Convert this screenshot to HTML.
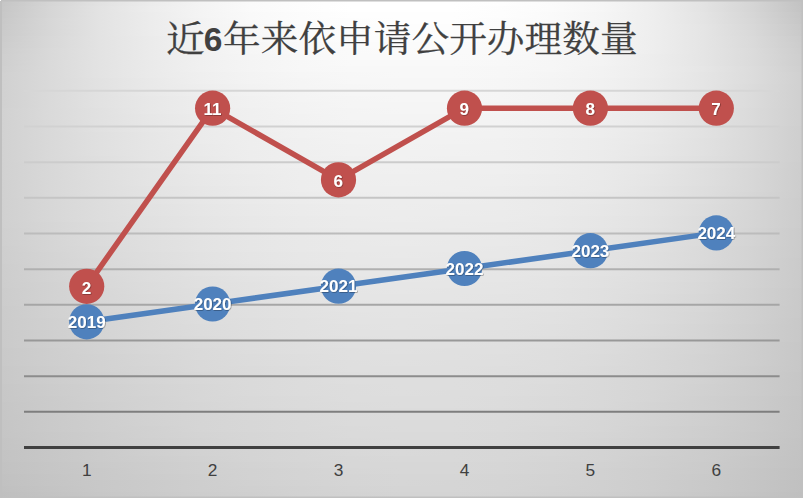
<!DOCTYPE html>
<html lang="zh-CN"><head><meta charset="utf-8"><title>近6年来依申请公开办理数量</title>
<style>
html,body{margin:0;padding:0;background:#fff;}
body{width:803px;height:498px;overflow:hidden;}
svg{display:block;}
.t{font-family:"Liberation Serif","Noto Serif CJK SC",serif;font-size:36.3px;fill:#404040;stroke:#404040;stroke-width:0.25px;}
.tb{font-family:"Liberation Sans",sans-serif;font-weight:bold;font-size:33.5px;fill:#404040;}
.ax{font-family:"Liberation Sans",sans-serif;font-size:17.3px;fill:#404040;text-anchor:middle;}
.dl{font-family:"Liberation Sans",sans-serif;font-weight:bold;font-size:17px;fill:#fff;text-anchor:middle;}
</style></head><body>
<svg width="803" height="498" viewBox="0 0 803 498">
<defs>
<linearGradient id="g0" x1="0" x2="1" y1="0" y2="0"><stop offset="0.0000" stop-color="#c5c5c5"/><stop offset="0.0625" stop-color="#d5d5d5"/><stop offset="0.1250" stop-color="#e2e2e2"/><stop offset="0.1875" stop-color="#ececec"/><stop offset="0.2500" stop-color="#f4f4f4"/><stop offset="0.3125" stop-color="#fafafa"/><stop offset="0.3750" stop-color="#fdfdfd"/><stop offset="0.4375" stop-color="#ffffff"/><stop offset="0.5000" stop-color="#ffffff"/><stop offset="0.5625" stop-color="#ffffff"/><stop offset="0.6250" stop-color="#fefefe"/><stop offset="0.6875" stop-color="#fbfbfb"/><stop offset="0.7500" stop-color="#f6f6f6"/><stop offset="0.8125" stop-color="#eeeeee"/><stop offset="0.8750" stop-color="#e3e3e3"/><stop offset="0.9375" stop-color="#d5d5d5"/><stop offset="1.0000" stop-color="#c2c2c2"/></linearGradient>
<linearGradient id="g1" x1="0" x2="1" y1="0" y2="0"><stop offset="0.0000" stop-color="#c6c6c6"/><stop offset="0.0625" stop-color="#d6d6d6"/><stop offset="0.1250" stop-color="#e3e3e3"/><stop offset="0.1875" stop-color="#ededed"/><stop offset="0.2500" stop-color="#f4f4f4"/><stop offset="0.3125" stop-color="#fafafa"/><stop offset="0.3750" stop-color="#fdfdfd"/><stop offset="0.4375" stop-color="#ffffff"/><stop offset="0.5000" stop-color="#ffffff"/><stop offset="0.5625" stop-color="#ffffff"/><stop offset="0.6250" stop-color="#fdfdfd"/><stop offset="0.6875" stop-color="#fbfbfb"/><stop offset="0.7500" stop-color="#f6f6f6"/><stop offset="0.8125" stop-color="#eeeeee"/><stop offset="0.8750" stop-color="#e3e3e3"/><stop offset="0.9375" stop-color="#d5d5d5"/><stop offset="1.0000" stop-color="#c3c3c3"/></linearGradient>
<linearGradient id="g2" x1="0" x2="1" y1="0" y2="0"><stop offset="0.0000" stop-color="#c7c7c7"/><stop offset="0.0625" stop-color="#d6d6d6"/><stop offset="0.1250" stop-color="#e3e3e3"/><stop offset="0.1875" stop-color="#ececec"/><stop offset="0.2500" stop-color="#f4f4f4"/><stop offset="0.3125" stop-color="#f9f9f9"/><stop offset="0.3750" stop-color="#fcfcfc"/><stop offset="0.4375" stop-color="#fefefe"/><stop offset="0.5000" stop-color="#fefefe"/><stop offset="0.5625" stop-color="#fefefe"/><stop offset="0.6250" stop-color="#fdfdfd"/><stop offset="0.6875" stop-color="#fafafa"/><stop offset="0.7500" stop-color="#f5f5f5"/><stop offset="0.8125" stop-color="#eeeeee"/><stop offset="0.8750" stop-color="#e4e4e4"/><stop offset="0.9375" stop-color="#d6d6d6"/><stop offset="1.0000" stop-color="#c5c5c5"/></linearGradient>
<linearGradient id="g3" x1="0" x2="1" y1="0" y2="0"><stop offset="0.0000" stop-color="#c8c8c8"/><stop offset="0.0625" stop-color="#d7d7d7"/><stop offset="0.1250" stop-color="#e3e3e3"/><stop offset="0.1875" stop-color="#ececec"/><stop offset="0.2500" stop-color="#f3f3f3"/><stop offset="0.3125" stop-color="#f9f9f9"/><stop offset="0.3750" stop-color="#fcfcfc"/><stop offset="0.4375" stop-color="#fdfdfd"/><stop offset="0.5000" stop-color="#fefefe"/><stop offset="0.5625" stop-color="#fefefe"/><stop offset="0.6250" stop-color="#fcfcfc"/><stop offset="0.6875" stop-color="#fafafa"/><stop offset="0.7500" stop-color="#f5f5f5"/><stop offset="0.8125" stop-color="#eeeeee"/><stop offset="0.8750" stop-color="#e4e4e4"/><stop offset="0.9375" stop-color="#d7d7d7"/><stop offset="1.0000" stop-color="#c6c6c6"/></linearGradient>
<linearGradient id="g4" x1="0" x2="1" y1="0" y2="0"><stop offset="0.0000" stop-color="#c9c9c9"/><stop offset="0.0625" stop-color="#d7d7d7"/><stop offset="0.1250" stop-color="#e3e3e3"/><stop offset="0.1875" stop-color="#ececec"/><stop offset="0.2500" stop-color="#f3f3f3"/><stop offset="0.3125" stop-color="#f8f8f8"/><stop offset="0.3750" stop-color="#fbfbfb"/><stop offset="0.4375" stop-color="#fdfdfd"/><stop offset="0.5000" stop-color="#fdfdfd"/><stop offset="0.5625" stop-color="#fdfdfd"/><stop offset="0.6250" stop-color="#fcfcfc"/><stop offset="0.6875" stop-color="#f9f9f9"/><stop offset="0.7500" stop-color="#f5f5f5"/><stop offset="0.8125" stop-color="#eeeeee"/><stop offset="0.8750" stop-color="#e5e5e5"/><stop offset="0.9375" stop-color="#d8d8d8"/><stop offset="1.0000" stop-color="#c8c8c8"/></linearGradient>
<linearGradient id="g5" x1="0" x2="1" y1="0" y2="0"><stop offset="0.0000" stop-color="#cacaca"/><stop offset="0.0625" stop-color="#d7d7d7"/><stop offset="0.1250" stop-color="#e3e3e3"/><stop offset="0.1875" stop-color="#ececec"/><stop offset="0.2500" stop-color="#f3f3f3"/><stop offset="0.3125" stop-color="#f8f8f8"/><stop offset="0.3750" stop-color="#fbfbfb"/><stop offset="0.4375" stop-color="#fcfcfc"/><stop offset="0.5000" stop-color="#fdfdfd"/><stop offset="0.5625" stop-color="#fcfcfc"/><stop offset="0.6250" stop-color="#fbfbfb"/><stop offset="0.6875" stop-color="#f9f9f9"/><stop offset="0.7500" stop-color="#f5f5f5"/><stop offset="0.8125" stop-color="#eeeeee"/><stop offset="0.8750" stop-color="#e5e5e5"/><stop offset="0.9375" stop-color="#d9d9d9"/><stop offset="1.0000" stop-color="#c9c9c9"/></linearGradient>
<linearGradient id="g6" x1="0" x2="1" y1="0" y2="0"><stop offset="0.0000" stop-color="#cbcbcb"/><stop offset="0.0625" stop-color="#d8d8d8"/><stop offset="0.1250" stop-color="#e3e3e3"/><stop offset="0.1875" stop-color="#ebebeb"/><stop offset="0.2500" stop-color="#f2f2f2"/><stop offset="0.3125" stop-color="#f7f7f7"/><stop offset="0.3750" stop-color="#fafafa"/><stop offset="0.4375" stop-color="#fcfcfc"/><stop offset="0.5000" stop-color="#fcfcfc"/><stop offset="0.5625" stop-color="#fcfcfc"/><stop offset="0.6250" stop-color="#fbfbfb"/><stop offset="0.6875" stop-color="#f9f9f9"/><stop offset="0.7500" stop-color="#f4f4f4"/><stop offset="0.8125" stop-color="#eeeeee"/><stop offset="0.8750" stop-color="#e5e5e5"/><stop offset="0.9375" stop-color="#dadada"/><stop offset="1.0000" stop-color="#cbcbcb"/></linearGradient>
<linearGradient id="g7" x1="0" x2="1" y1="0" y2="0"><stop offset="0.0000" stop-color="#cccccc"/><stop offset="0.0625" stop-color="#d8d8d8"/><stop offset="0.1250" stop-color="#e3e3e3"/><stop offset="0.1875" stop-color="#ebebeb"/><stop offset="0.2500" stop-color="#f2f2f2"/><stop offset="0.3125" stop-color="#f6f6f6"/><stop offset="0.3750" stop-color="#f9f9f9"/><stop offset="0.4375" stop-color="#fbfbfb"/><stop offset="0.5000" stop-color="#fbfbfb"/><stop offset="0.5625" stop-color="#fbfbfb"/><stop offset="0.6250" stop-color="#fafafa"/><stop offset="0.6875" stop-color="#f8f8f8"/><stop offset="0.7500" stop-color="#f4f4f4"/><stop offset="0.8125" stop-color="#eeeeee"/><stop offset="0.8750" stop-color="#e5e5e5"/><stop offset="0.9375" stop-color="#dadada"/><stop offset="1.0000" stop-color="#cccccc"/></linearGradient>
<linearGradient id="g8" x1="0" x2="1" y1="0" y2="0"><stop offset="0.0000" stop-color="#cdcdcd"/><stop offset="0.0625" stop-color="#d9d9d9"/><stop offset="0.1250" stop-color="#e3e3e3"/><stop offset="0.1875" stop-color="#ebebeb"/><stop offset="0.2500" stop-color="#f1f1f1"/><stop offset="0.3125" stop-color="#f6f6f6"/><stop offset="0.3750" stop-color="#f9f9f9"/><stop offset="0.4375" stop-color="#fafafa"/><stop offset="0.5000" stop-color="#fbfbfb"/><stop offset="0.5625" stop-color="#fafafa"/><stop offset="0.6250" stop-color="#fafafa"/><stop offset="0.6875" stop-color="#f7f7f7"/><stop offset="0.7500" stop-color="#f4f4f4"/><stop offset="0.8125" stop-color="#eeeeee"/><stop offset="0.8750" stop-color="#e5e5e5"/><stop offset="0.9375" stop-color="#dbdbdb"/><stop offset="1.0000" stop-color="#cdcdcd"/></linearGradient>
<linearGradient id="g9" x1="0" x2="1" y1="0" y2="0"><stop offset="0.0000" stop-color="#cecece"/><stop offset="0.0625" stop-color="#d9d9d9"/><stop offset="0.1250" stop-color="#e3e3e3"/><stop offset="0.1875" stop-color="#ebebeb"/><stop offset="0.2500" stop-color="#f1f1f1"/><stop offset="0.3125" stop-color="#f5f5f5"/><stop offset="0.3750" stop-color="#f8f8f8"/><stop offset="0.4375" stop-color="#fafafa"/><stop offset="0.5000" stop-color="#fafafa"/><stop offset="0.5625" stop-color="#fafafa"/><stop offset="0.6250" stop-color="#f9f9f9"/><stop offset="0.6875" stop-color="#f7f7f7"/><stop offset="0.7500" stop-color="#f3f3f3"/><stop offset="0.8125" stop-color="#ededed"/><stop offset="0.8750" stop-color="#e5e5e5"/><stop offset="0.9375" stop-color="#dbdbdb"/><stop offset="1.0000" stop-color="#cecece"/></linearGradient>
<linearGradient id="g10" x1="0" x2="1" y1="0" y2="0"><stop offset="0.0000" stop-color="#cecece"/><stop offset="0.0625" stop-color="#dadada"/><stop offset="0.1250" stop-color="#e3e3e3"/><stop offset="0.1875" stop-color="#eaeaea"/><stop offset="0.2500" stop-color="#f0f0f0"/><stop offset="0.3125" stop-color="#f4f4f4"/><stop offset="0.3750" stop-color="#f7f7f7"/><stop offset="0.4375" stop-color="#f9f9f9"/><stop offset="0.5000" stop-color="#f9f9f9"/><stop offset="0.5625" stop-color="#f9f9f9"/><stop offset="0.6250" stop-color="#f8f8f8"/><stop offset="0.6875" stop-color="#f6f6f6"/><stop offset="0.7500" stop-color="#f3f3f3"/><stop offset="0.8125" stop-color="#ededed"/><stop offset="0.8750" stop-color="#e5e5e5"/><stop offset="0.9375" stop-color="#dbdbdb"/><stop offset="1.0000" stop-color="#cecece"/></linearGradient>
<linearGradient id="g11" x1="0" x2="1" y1="0" y2="0"><stop offset="0.0000" stop-color="#cfcfcf"/><stop offset="0.0625" stop-color="#dadada"/><stop offset="0.1250" stop-color="#e3e3e3"/><stop offset="0.1875" stop-color="#eaeaea"/><stop offset="0.2500" stop-color="#f0f0f0"/><stop offset="0.3125" stop-color="#f4f4f4"/><stop offset="0.3750" stop-color="#f7f7f7"/><stop offset="0.4375" stop-color="#f8f8f8"/><stop offset="0.5000" stop-color="#f8f8f8"/><stop offset="0.5625" stop-color="#f8f8f8"/><stop offset="0.6250" stop-color="#f7f7f7"/><stop offset="0.6875" stop-color="#f6f6f6"/><stop offset="0.7500" stop-color="#f2f2f2"/><stop offset="0.8125" stop-color="#ededed"/><stop offset="0.8750" stop-color="#e6e6e6"/><stop offset="0.9375" stop-color="#dcdcdc"/><stop offset="1.0000" stop-color="#cfcfcf"/></linearGradient>
<linearGradient id="g12" x1="0" x2="1" y1="0" y2="0"><stop offset="0.0000" stop-color="#d0d0d0"/><stop offset="0.0625" stop-color="#dadada"/><stop offset="0.1250" stop-color="#e3e3e3"/><stop offset="0.1875" stop-color="#eaeaea"/><stop offset="0.2500" stop-color="#efefef"/><stop offset="0.3125" stop-color="#f3f3f3"/><stop offset="0.3750" stop-color="#f6f6f6"/><stop offset="0.4375" stop-color="#f7f7f7"/><stop offset="0.5000" stop-color="#f8f8f8"/><stop offset="0.5625" stop-color="#f8f8f8"/><stop offset="0.6250" stop-color="#f7f7f7"/><stop offset="0.6875" stop-color="#f5f5f5"/><stop offset="0.7500" stop-color="#f2f2f2"/><stop offset="0.8125" stop-color="#ededed"/><stop offset="0.8750" stop-color="#e5e5e5"/><stop offset="0.9375" stop-color="#dcdcdc"/><stop offset="1.0000" stop-color="#d0d0d0"/></linearGradient>
<linearGradient id="g13" x1="0" x2="1" y1="0" y2="0"><stop offset="0.0000" stop-color="#d0d0d0"/><stop offset="0.0625" stop-color="#dadada"/><stop offset="0.1250" stop-color="#e2e2e2"/><stop offset="0.1875" stop-color="#e9e9e9"/><stop offset="0.2500" stop-color="#efefef"/><stop offset="0.3125" stop-color="#f3f3f3"/><stop offset="0.3750" stop-color="#f5f5f5"/><stop offset="0.4375" stop-color="#f7f7f7"/><stop offset="0.5000" stop-color="#f7f7f7"/><stop offset="0.5625" stop-color="#f7f7f7"/><stop offset="0.6250" stop-color="#f6f6f6"/><stop offset="0.6875" stop-color="#f4f4f4"/><stop offset="0.7500" stop-color="#f1f1f1"/><stop offset="0.8125" stop-color="#ececec"/><stop offset="0.8750" stop-color="#e5e5e5"/><stop offset="0.9375" stop-color="#dcdcdc"/><stop offset="1.0000" stop-color="#d0d0d0"/></linearGradient>
<linearGradient id="g14" x1="0" x2="1" y1="0" y2="0"><stop offset="0.0000" stop-color="#d0d0d0"/><stop offset="0.0625" stop-color="#dadada"/><stop offset="0.1250" stop-color="#e2e2e2"/><stop offset="0.1875" stop-color="#e9e9e9"/><stop offset="0.2500" stop-color="#eeeeee"/><stop offset="0.3125" stop-color="#f2f2f2"/><stop offset="0.3750" stop-color="#f5f5f5"/><stop offset="0.4375" stop-color="#f6f6f6"/><stop offset="0.5000" stop-color="#f7f7f7"/><stop offset="0.5625" stop-color="#f7f7f7"/><stop offset="0.6250" stop-color="#f6f6f6"/><stop offset="0.6875" stop-color="#f4f4f4"/><stop offset="0.7500" stop-color="#f1f1f1"/><stop offset="0.8125" stop-color="#ececec"/><stop offset="0.8750" stop-color="#e5e5e5"/><stop offset="0.9375" stop-color="#dbdbdb"/><stop offset="1.0000" stop-color="#d0d0d0"/></linearGradient>
<linearGradient id="g15" x1="0" x2="1" y1="0" y2="0"><stop offset="0.0000" stop-color="#d0d0d0"/><stop offset="0.0625" stop-color="#dadada"/><stop offset="0.1250" stop-color="#e2e2e2"/><stop offset="0.1875" stop-color="#e9e9e9"/><stop offset="0.2500" stop-color="#eeeeee"/><stop offset="0.3125" stop-color="#f2f2f2"/><stop offset="0.3750" stop-color="#f4f4f4"/><stop offset="0.4375" stop-color="#f6f6f6"/><stop offset="0.5000" stop-color="#f6f6f6"/><stop offset="0.5625" stop-color="#f6f6f6"/><stop offset="0.6250" stop-color="#f5f5f5"/><stop offset="0.6875" stop-color="#f3f3f3"/><stop offset="0.7500" stop-color="#f0f0f0"/><stop offset="0.8125" stop-color="#ebebeb"/><stop offset="0.8750" stop-color="#e4e4e4"/><stop offset="0.9375" stop-color="#dbdbdb"/><stop offset="1.0000" stop-color="#cfcfcf"/></linearGradient>
<linearGradient id="g16" x1="0" x2="1" y1="0" y2="0"><stop offset="0.0000" stop-color="#d0d0d0"/><stop offset="0.0625" stop-color="#dadada"/><stop offset="0.1250" stop-color="#e2e2e2"/><stop offset="0.1875" stop-color="#e8e8e8"/><stop offset="0.2500" stop-color="#ededed"/><stop offset="0.3125" stop-color="#f1f1f1"/><stop offset="0.3750" stop-color="#f4f4f4"/><stop offset="0.4375" stop-color="#f5f5f5"/><stop offset="0.5000" stop-color="#f6f6f6"/><stop offset="0.5625" stop-color="#f6f6f6"/><stop offset="0.6250" stop-color="#f5f5f5"/><stop offset="0.6875" stop-color="#f3f3f3"/><stop offset="0.7500" stop-color="#f0f0f0"/><stop offset="0.8125" stop-color="#ebebeb"/><stop offset="0.8750" stop-color="#e4e4e4"/><stop offset="0.9375" stop-color="#dbdbdb"/><stop offset="1.0000" stop-color="#cfcfcf"/></linearGradient>
<linearGradient id="g17" x1="0" x2="1" y1="0" y2="0"><stop offset="0.0000" stop-color="#d0d0d0"/><stop offset="0.0625" stop-color="#dadada"/><stop offset="0.1250" stop-color="#e2e2e2"/><stop offset="0.1875" stop-color="#e8e8e8"/><stop offset="0.2500" stop-color="#ededed"/><stop offset="0.3125" stop-color="#f1f1f1"/><stop offset="0.3750" stop-color="#f3f3f3"/><stop offset="0.4375" stop-color="#f5f5f5"/><stop offset="0.5000" stop-color="#f5f5f5"/><stop offset="0.5625" stop-color="#f5f5f5"/><stop offset="0.6250" stop-color="#f4f4f4"/><stop offset="0.6875" stop-color="#f2f2f2"/><stop offset="0.7500" stop-color="#efefef"/><stop offset="0.8125" stop-color="#eaeaea"/><stop offset="0.8750" stop-color="#e4e4e4"/><stop offset="0.9375" stop-color="#dbdbdb"/><stop offset="1.0000" stop-color="#cfcfcf"/></linearGradient>
<linearGradient id="g18" x1="0" x2="1" y1="0" y2="0"><stop offset="0.0000" stop-color="#d1d1d1"/><stop offset="0.0625" stop-color="#dadada"/><stop offset="0.1250" stop-color="#e1e1e1"/><stop offset="0.1875" stop-color="#e8e8e8"/><stop offset="0.2500" stop-color="#ededed"/><stop offset="0.3125" stop-color="#f0f0f0"/><stop offset="0.3750" stop-color="#f3f3f3"/><stop offset="0.4375" stop-color="#f4f4f4"/><stop offset="0.5000" stop-color="#f5f5f5"/><stop offset="0.5625" stop-color="#f5f5f5"/><stop offset="0.6250" stop-color="#f4f4f4"/><stop offset="0.6875" stop-color="#f2f2f2"/><stop offset="0.7500" stop-color="#efefef"/><stop offset="0.8125" stop-color="#eaeaea"/><stop offset="0.8750" stop-color="#e3e3e3"/><stop offset="0.9375" stop-color="#dadada"/><stop offset="1.0000" stop-color="#cfcfcf"/></linearGradient>
<linearGradient id="g19" x1="0" x2="1" y1="0" y2="0"><stop offset="0.0000" stop-color="#d1d1d1"/><stop offset="0.0625" stop-color="#dadada"/><stop offset="0.1250" stop-color="#e1e1e1"/><stop offset="0.1875" stop-color="#e7e7e7"/><stop offset="0.2500" stop-color="#ececec"/><stop offset="0.3125" stop-color="#f0f0f0"/><stop offset="0.3750" stop-color="#f2f2f2"/><stop offset="0.4375" stop-color="#f4f4f4"/><stop offset="0.5000" stop-color="#f4f4f4"/><stop offset="0.5625" stop-color="#f4f4f4"/><stop offset="0.6250" stop-color="#f3f3f3"/><stop offset="0.6875" stop-color="#f1f1f1"/><stop offset="0.7500" stop-color="#eeeeee"/><stop offset="0.8125" stop-color="#eaeaea"/><stop offset="0.8750" stop-color="#e3e3e3"/><stop offset="0.9375" stop-color="#dadada"/><stop offset="1.0000" stop-color="#cfcfcf"/></linearGradient>
<linearGradient id="g20" x1="0" x2="1" y1="0" y2="0"><stop offset="0.0000" stop-color="#d1d1d1"/><stop offset="0.0625" stop-color="#d9d9d9"/><stop offset="0.1250" stop-color="#e1e1e1"/><stop offset="0.1875" stop-color="#e7e7e7"/><stop offset="0.2500" stop-color="#ececec"/><stop offset="0.3125" stop-color="#efefef"/><stop offset="0.3750" stop-color="#f2f2f2"/><stop offset="0.4375" stop-color="#f3f3f3"/><stop offset="0.5000" stop-color="#f4f4f4"/><stop offset="0.5625" stop-color="#f3f3f3"/><stop offset="0.6250" stop-color="#f3f3f3"/><stop offset="0.6875" stop-color="#f1f1f1"/><stop offset="0.7500" stop-color="#eeeeee"/><stop offset="0.8125" stop-color="#e9e9e9"/><stop offset="0.8750" stop-color="#e2e2e2"/><stop offset="0.9375" stop-color="#dadada"/><stop offset="1.0000" stop-color="#cfcfcf"/></linearGradient>
<linearGradient id="g21" x1="0" x2="1" y1="0" y2="0"><stop offset="0.0000" stop-color="#d1d1d1"/><stop offset="0.0625" stop-color="#d9d9d9"/><stop offset="0.1250" stop-color="#e1e1e1"/><stop offset="0.1875" stop-color="#e7e7e7"/><stop offset="0.2500" stop-color="#ebebeb"/><stop offset="0.3125" stop-color="#efefef"/><stop offset="0.3750" stop-color="#f1f1f1"/><stop offset="0.4375" stop-color="#f3f3f3"/><stop offset="0.5000" stop-color="#f3f3f3"/><stop offset="0.5625" stop-color="#f3f3f3"/><stop offset="0.6250" stop-color="#f2f2f2"/><stop offset="0.6875" stop-color="#f0f0f0"/><stop offset="0.7500" stop-color="#ededed"/><stop offset="0.8125" stop-color="#e9e9e9"/><stop offset="0.8750" stop-color="#e2e2e2"/><stop offset="0.9375" stop-color="#d9d9d9"/><stop offset="1.0000" stop-color="#cecece"/></linearGradient>
<linearGradient id="g22" x1="0" x2="1" y1="0" y2="0"><stop offset="0.0000" stop-color="#d1d1d1"/><stop offset="0.0625" stop-color="#d9d9d9"/><stop offset="0.1250" stop-color="#e0e0e0"/><stop offset="0.1875" stop-color="#e6e6e6"/><stop offset="0.2500" stop-color="#ebebeb"/><stop offset="0.3125" stop-color="#eeeeee"/><stop offset="0.3750" stop-color="#f1f1f1"/><stop offset="0.4375" stop-color="#f2f2f2"/><stop offset="0.5000" stop-color="#f3f3f3"/><stop offset="0.5625" stop-color="#f2f2f2"/><stop offset="0.6250" stop-color="#f2f2f2"/><stop offset="0.6875" stop-color="#f0f0f0"/><stop offset="0.7500" stop-color="#ededed"/><stop offset="0.8125" stop-color="#e8e8e8"/><stop offset="0.8750" stop-color="#e2e2e2"/><stop offset="0.9375" stop-color="#d9d9d9"/><stop offset="1.0000" stop-color="#cecece"/></linearGradient>
<linearGradient id="g23" x1="0" x2="1" y1="0" y2="0"><stop offset="0.0000" stop-color="#d1d1d1"/><stop offset="0.0625" stop-color="#d9d9d9"/><stop offset="0.1250" stop-color="#e0e0e0"/><stop offset="0.1875" stop-color="#e6e6e6"/><stop offset="0.2500" stop-color="#ebebeb"/><stop offset="0.3125" stop-color="#eeeeee"/><stop offset="0.3750" stop-color="#f0f0f0"/><stop offset="0.4375" stop-color="#f2f2f2"/><stop offset="0.5000" stop-color="#f2f2f2"/><stop offset="0.5625" stop-color="#f2f2f2"/><stop offset="0.6250" stop-color="#f1f1f1"/><stop offset="0.6875" stop-color="#efefef"/><stop offset="0.7500" stop-color="#ececec"/><stop offset="0.8125" stop-color="#e8e8e8"/><stop offset="0.8750" stop-color="#e1e1e1"/><stop offset="0.9375" stop-color="#d9d9d9"/><stop offset="1.0000" stop-color="#cecece"/></linearGradient>
<linearGradient id="g24" x1="0" x2="1" y1="0" y2="0"><stop offset="0.0000" stop-color="#d1d1d1"/><stop offset="0.0625" stop-color="#d9d9d9"/><stop offset="0.1250" stop-color="#e0e0e0"/><stop offset="0.1875" stop-color="#e6e6e6"/><stop offset="0.2500" stop-color="#eaeaea"/><stop offset="0.3125" stop-color="#eeeeee"/><stop offset="0.3750" stop-color="#f0f0f0"/><stop offset="0.4375" stop-color="#f1f1f1"/><stop offset="0.5000" stop-color="#f2f2f2"/><stop offset="0.5625" stop-color="#f1f1f1"/><stop offset="0.6250" stop-color="#f1f1f1"/><stop offset="0.6875" stop-color="#efefef"/><stop offset="0.7500" stop-color="#ececec"/><stop offset="0.8125" stop-color="#e7e7e7"/><stop offset="0.8750" stop-color="#e1e1e1"/><stop offset="0.9375" stop-color="#d9d9d9"/><stop offset="1.0000" stop-color="#cecece"/></linearGradient>
<linearGradient id="g25" x1="0" x2="1" y1="0" y2="0"><stop offset="0.0000" stop-color="#d1d1d1"/><stop offset="0.0625" stop-color="#d9d9d9"/><stop offset="0.1250" stop-color="#e0e0e0"/><stop offset="0.1875" stop-color="#e5e5e5"/><stop offset="0.2500" stop-color="#eaeaea"/><stop offset="0.3125" stop-color="#ededed"/><stop offset="0.3750" stop-color="#efefef"/><stop offset="0.4375" stop-color="#f1f1f1"/><stop offset="0.5000" stop-color="#f1f1f1"/><stop offset="0.5625" stop-color="#f1f1f1"/><stop offset="0.6250" stop-color="#f0f0f0"/><stop offset="0.6875" stop-color="#eeeeee"/><stop offset="0.7500" stop-color="#ebebeb"/><stop offset="0.8125" stop-color="#e7e7e7"/><stop offset="0.8750" stop-color="#e1e1e1"/><stop offset="0.9375" stop-color="#d8d8d8"/><stop offset="1.0000" stop-color="#cecece"/></linearGradient>
<linearGradient id="g26" x1="0" x2="1" y1="0" y2="0"><stop offset="0.0000" stop-color="#d1d1d1"/><stop offset="0.0625" stop-color="#d9d9d9"/><stop offset="0.1250" stop-color="#dfdfdf"/><stop offset="0.1875" stop-color="#e5e5e5"/><stop offset="0.2500" stop-color="#e9e9e9"/><stop offset="0.3125" stop-color="#ededed"/><stop offset="0.3750" stop-color="#efefef"/><stop offset="0.4375" stop-color="#f0f0f0"/><stop offset="0.5000" stop-color="#f1f1f1"/><stop offset="0.5625" stop-color="#f0f0f0"/><stop offset="0.6250" stop-color="#f0f0f0"/><stop offset="0.6875" stop-color="#eeeeee"/><stop offset="0.7500" stop-color="#ebebeb"/><stop offset="0.8125" stop-color="#e6e6e6"/><stop offset="0.8750" stop-color="#e0e0e0"/><stop offset="0.9375" stop-color="#d8d8d8"/><stop offset="1.0000" stop-color="#cecece"/></linearGradient>
<linearGradient id="g27" x1="0" x2="1" y1="0" y2="0"><stop offset="0.0000" stop-color="#d1d1d1"/><stop offset="0.0625" stop-color="#d8d8d8"/><stop offset="0.1250" stop-color="#dfdfdf"/><stop offset="0.1875" stop-color="#e5e5e5"/><stop offset="0.2500" stop-color="#e9e9e9"/><stop offset="0.3125" stop-color="#ececec"/><stop offset="0.3750" stop-color="#efefef"/><stop offset="0.4375" stop-color="#f0f0f0"/><stop offset="0.5000" stop-color="#f0f0f0"/><stop offset="0.5625" stop-color="#f0f0f0"/><stop offset="0.6250" stop-color="#efefef"/><stop offset="0.6875" stop-color="#ededed"/><stop offset="0.7500" stop-color="#eaeaea"/><stop offset="0.8125" stop-color="#e6e6e6"/><stop offset="0.8750" stop-color="#e0e0e0"/><stop offset="0.9375" stop-color="#d8d8d8"/><stop offset="1.0000" stop-color="#cdcdcd"/></linearGradient>
<linearGradient id="g28" x1="0" x2="1" y1="0" y2="0"><stop offset="0.0000" stop-color="#d1d1d1"/><stop offset="0.0625" stop-color="#d8d8d8"/><stop offset="0.1250" stop-color="#dfdfdf"/><stop offset="0.1875" stop-color="#e4e4e4"/><stop offset="0.2500" stop-color="#e9e9e9"/><stop offset="0.3125" stop-color="#ececec"/><stop offset="0.3750" stop-color="#eeeeee"/><stop offset="0.4375" stop-color="#efefef"/><stop offset="0.5000" stop-color="#f0f0f0"/><stop offset="0.5625" stop-color="#efefef"/><stop offset="0.6250" stop-color="#efefef"/><stop offset="0.6875" stop-color="#ededed"/><stop offset="0.7500" stop-color="#eaeaea"/><stop offset="0.8125" stop-color="#e6e6e6"/><stop offset="0.8750" stop-color="#dfdfdf"/><stop offset="0.9375" stop-color="#d7d7d7"/><stop offset="1.0000" stop-color="#cdcdcd"/></linearGradient>
<linearGradient id="g29" x1="0" x2="1" y1="0" y2="0"><stop offset="0.0000" stop-color="#d1d1d1"/><stop offset="0.0625" stop-color="#d8d8d8"/><stop offset="0.1250" stop-color="#dfdfdf"/><stop offset="0.1875" stop-color="#e4e4e4"/><stop offset="0.2500" stop-color="#e8e8e8"/><stop offset="0.3125" stop-color="#ebebeb"/><stop offset="0.3750" stop-color="#eeeeee"/><stop offset="0.4375" stop-color="#efefef"/><stop offset="0.5000" stop-color="#efefef"/><stop offset="0.5625" stop-color="#efefef"/><stop offset="0.6250" stop-color="#eeeeee"/><stop offset="0.6875" stop-color="#ececec"/><stop offset="0.7500" stop-color="#eaeaea"/><stop offset="0.8125" stop-color="#e5e5e5"/><stop offset="0.8750" stop-color="#dfdfdf"/><stop offset="0.9375" stop-color="#d7d7d7"/><stop offset="1.0000" stop-color="#cdcdcd"/></linearGradient>
<linearGradient id="g30" x1="0" x2="1" y1="0" y2="0"><stop offset="0.0000" stop-color="#d0d0d0"/><stop offset="0.0625" stop-color="#d8d8d8"/><stop offset="0.1250" stop-color="#dedede"/><stop offset="0.1875" stop-color="#e4e4e4"/><stop offset="0.2500" stop-color="#e8e8e8"/><stop offset="0.3125" stop-color="#ebebeb"/><stop offset="0.3750" stop-color="#ededed"/><stop offset="0.4375" stop-color="#eeeeee"/><stop offset="0.5000" stop-color="#efefef"/><stop offset="0.5625" stop-color="#eeeeee"/><stop offset="0.6250" stop-color="#eeeeee"/><stop offset="0.6875" stop-color="#ececec"/><stop offset="0.7500" stop-color="#e9e9e9"/><stop offset="0.8125" stop-color="#e5e5e5"/><stop offset="0.8750" stop-color="#dfdfdf"/><stop offset="0.9375" stop-color="#d7d7d7"/><stop offset="1.0000" stop-color="#cdcdcd"/></linearGradient>
<linearGradient id="g31" x1="0" x2="1" y1="0" y2="0"><stop offset="0.0000" stop-color="#d0d0d0"/><stop offset="0.0625" stop-color="#d8d8d8"/><stop offset="0.1250" stop-color="#dedede"/><stop offset="0.1875" stop-color="#e3e3e3"/><stop offset="0.2500" stop-color="#e7e7e7"/><stop offset="0.3125" stop-color="#eaeaea"/><stop offset="0.3750" stop-color="#ededed"/><stop offset="0.4375" stop-color="#eeeeee"/><stop offset="0.5000" stop-color="#eeeeee"/><stop offset="0.5625" stop-color="#eeeeee"/><stop offset="0.6250" stop-color="#ededed"/><stop offset="0.6875" stop-color="#ebebeb"/><stop offset="0.7500" stop-color="#e9e9e9"/><stop offset="0.8125" stop-color="#e4e4e4"/><stop offset="0.8750" stop-color="#dedede"/><stop offset="0.9375" stop-color="#d7d7d7"/><stop offset="1.0000" stop-color="#cdcdcd"/></linearGradient>
<linearGradient id="g32" x1="0" x2="1" y1="0" y2="0"><stop offset="0.0000" stop-color="#d0d0d0"/><stop offset="0.0625" stop-color="#d8d8d8"/><stop offset="0.1250" stop-color="#dedede"/><stop offset="0.1875" stop-color="#e3e3e3"/><stop offset="0.2500" stop-color="#e7e7e7"/><stop offset="0.3125" stop-color="#eaeaea"/><stop offset="0.3750" stop-color="#ececec"/><stop offset="0.4375" stop-color="#ededed"/><stop offset="0.5000" stop-color="#eeeeee"/><stop offset="0.5625" stop-color="#ededed"/><stop offset="0.6250" stop-color="#ededed"/><stop offset="0.6875" stop-color="#ebebeb"/><stop offset="0.7500" stop-color="#e8e8e8"/><stop offset="0.8125" stop-color="#e4e4e4"/><stop offset="0.8750" stop-color="#dedede"/><stop offset="0.9375" stop-color="#d6d6d6"/><stop offset="1.0000" stop-color="#cdcdcd"/></linearGradient>
<linearGradient id="g33" x1="0" x2="1" y1="0" y2="0"><stop offset="0.0000" stop-color="#d0d0d0"/><stop offset="0.0625" stop-color="#d7d7d7"/><stop offset="0.1250" stop-color="#dddddd"/><stop offset="0.1875" stop-color="#e3e3e3"/><stop offset="0.2500" stop-color="#e7e7e7"/><stop offset="0.3125" stop-color="#eaeaea"/><stop offset="0.3750" stop-color="#ececec"/><stop offset="0.4375" stop-color="#ededed"/><stop offset="0.5000" stop-color="#ededed"/><stop offset="0.5625" stop-color="#ededed"/><stop offset="0.6250" stop-color="#ececec"/><stop offset="0.6875" stop-color="#eaeaea"/><stop offset="0.7500" stop-color="#e8e8e8"/><stop offset="0.8125" stop-color="#e3e3e3"/><stop offset="0.8750" stop-color="#dedede"/><stop offset="0.9375" stop-color="#d6d6d6"/><stop offset="1.0000" stop-color="#cccccc"/></linearGradient>
<linearGradient id="g34" x1="0" x2="1" y1="0" y2="0"><stop offset="0.0000" stop-color="#d0d0d0"/><stop offset="0.0625" stop-color="#d7d7d7"/><stop offset="0.1250" stop-color="#dddddd"/><stop offset="0.1875" stop-color="#e2e2e2"/><stop offset="0.2500" stop-color="#e6e6e6"/><stop offset="0.3125" stop-color="#e9e9e9"/><stop offset="0.3750" stop-color="#ebebeb"/><stop offset="0.4375" stop-color="#ececec"/><stop offset="0.5000" stop-color="#ededed"/><stop offset="0.5625" stop-color="#ececec"/><stop offset="0.6250" stop-color="#ececec"/><stop offset="0.6875" stop-color="#eaeaea"/><stop offset="0.7500" stop-color="#e7e7e7"/><stop offset="0.8125" stop-color="#e3e3e3"/><stop offset="0.8750" stop-color="#dddddd"/><stop offset="0.9375" stop-color="#d6d6d6"/><stop offset="1.0000" stop-color="#cccccc"/></linearGradient>
<linearGradient id="g35" x1="0" x2="1" y1="0" y2="0"><stop offset="0.0000" stop-color="#d0d0d0"/><stop offset="0.0625" stop-color="#d7d7d7"/><stop offset="0.1250" stop-color="#dddddd"/><stop offset="0.1875" stop-color="#e2e2e2"/><stop offset="0.2500" stop-color="#e6e6e6"/><stop offset="0.3125" stop-color="#e9e9e9"/><stop offset="0.3750" stop-color="#ebebeb"/><stop offset="0.4375" stop-color="#ececec"/><stop offset="0.5000" stop-color="#ececec"/><stop offset="0.5625" stop-color="#ececec"/><stop offset="0.6250" stop-color="#ebebeb"/><stop offset="0.6875" stop-color="#eaeaea"/><stop offset="0.7500" stop-color="#e7e7e7"/><stop offset="0.8125" stop-color="#e3e3e3"/><stop offset="0.8750" stop-color="#dddddd"/><stop offset="0.9375" stop-color="#d5d5d5"/><stop offset="1.0000" stop-color="#cccccc"/></linearGradient>
<linearGradient id="g36" x1="0" x2="1" y1="0" y2="0"><stop offset="0.0000" stop-color="#d0d0d0"/><stop offset="0.0625" stop-color="#d7d7d7"/><stop offset="0.1250" stop-color="#dddddd"/><stop offset="0.1875" stop-color="#e1e1e1"/><stop offset="0.2500" stop-color="#e5e5e5"/><stop offset="0.3125" stop-color="#e8e8e8"/><stop offset="0.3750" stop-color="#eaeaea"/><stop offset="0.4375" stop-color="#ebebeb"/><stop offset="0.5000" stop-color="#ececec"/><stop offset="0.5625" stop-color="#ebebeb"/><stop offset="0.6250" stop-color="#ebebeb"/><stop offset="0.6875" stop-color="#e9e9e9"/><stop offset="0.7500" stop-color="#e6e6e6"/><stop offset="0.8125" stop-color="#e2e2e2"/><stop offset="0.8750" stop-color="#dcdcdc"/><stop offset="0.9375" stop-color="#d5d5d5"/><stop offset="1.0000" stop-color="#cccccc"/></linearGradient>
<linearGradient id="g37" x1="0" x2="1" y1="0" y2="0"><stop offset="0.0000" stop-color="#d0d0d0"/><stop offset="0.0625" stop-color="#d6d6d6"/><stop offset="0.1250" stop-color="#dcdcdc"/><stop offset="0.1875" stop-color="#e1e1e1"/><stop offset="0.2500" stop-color="#e5e5e5"/><stop offset="0.3125" stop-color="#e8e8e8"/><stop offset="0.3750" stop-color="#eaeaea"/><stop offset="0.4375" stop-color="#ebebeb"/><stop offset="0.5000" stop-color="#ebebeb"/><stop offset="0.5625" stop-color="#ebebeb"/><stop offset="0.6250" stop-color="#eaeaea"/><stop offset="0.6875" stop-color="#e9e9e9"/><stop offset="0.7500" stop-color="#e6e6e6"/><stop offset="0.8125" stop-color="#e2e2e2"/><stop offset="0.8750" stop-color="#dcdcdc"/><stop offset="0.9375" stop-color="#d5d5d5"/><stop offset="1.0000" stop-color="#cccccc"/></linearGradient>
<linearGradient id="g38" x1="0" x2="1" y1="0" y2="0"><stop offset="0.0000" stop-color="#cfcfcf"/><stop offset="0.0625" stop-color="#d6d6d6"/><stop offset="0.1250" stop-color="#dcdcdc"/><stop offset="0.1875" stop-color="#e0e0e0"/><stop offset="0.2500" stop-color="#e4e4e4"/><stop offset="0.3125" stop-color="#e7e7e7"/><stop offset="0.3750" stop-color="#e9e9e9"/><stop offset="0.4375" stop-color="#eaeaea"/><stop offset="0.5000" stop-color="#ebebeb"/><stop offset="0.5625" stop-color="#eaeaea"/><stop offset="0.6250" stop-color="#eaeaea"/><stop offset="0.6875" stop-color="#e8e8e8"/><stop offset="0.7500" stop-color="#e5e5e5"/><stop offset="0.8125" stop-color="#e1e1e1"/><stop offset="0.8750" stop-color="#dcdcdc"/><stop offset="0.9375" stop-color="#d4d4d4"/><stop offset="1.0000" stop-color="#cbcbcb"/></linearGradient>
<linearGradient id="g39" x1="0" x2="1" y1="0" y2="0"><stop offset="0.0000" stop-color="#cfcfcf"/><stop offset="0.0625" stop-color="#d6d6d6"/><stop offset="0.1250" stop-color="#dbdbdb"/><stop offset="0.1875" stop-color="#e0e0e0"/><stop offset="0.2500" stop-color="#e4e4e4"/><stop offset="0.3125" stop-color="#e7e7e7"/><stop offset="0.3750" stop-color="#e9e9e9"/><stop offset="0.4375" stop-color="#eaeaea"/><stop offset="0.5000" stop-color="#eaeaea"/><stop offset="0.5625" stop-color="#eaeaea"/><stop offset="0.6250" stop-color="#e9e9e9"/><stop offset="0.6875" stop-color="#e8e8e8"/><stop offset="0.7500" stop-color="#e5e5e5"/><stop offset="0.8125" stop-color="#e1e1e1"/><stop offset="0.8750" stop-color="#dbdbdb"/><stop offset="0.9375" stop-color="#d4d4d4"/><stop offset="1.0000" stop-color="#cbcbcb"/></linearGradient>
<linearGradient id="g40" x1="0" x2="1" y1="0" y2="0"><stop offset="0.0000" stop-color="#cfcfcf"/><stop offset="0.0625" stop-color="#d5d5d5"/><stop offset="0.1250" stop-color="#dbdbdb"/><stop offset="0.1875" stop-color="#dfdfdf"/><stop offset="0.2500" stop-color="#e3e3e3"/><stop offset="0.3125" stop-color="#e6e6e6"/><stop offset="0.3750" stop-color="#e8e8e8"/><stop offset="0.4375" stop-color="#e9e9e9"/><stop offset="0.5000" stop-color="#eaeaea"/><stop offset="0.5625" stop-color="#e9e9e9"/><stop offset="0.6250" stop-color="#e9e9e9"/><stop offset="0.6875" stop-color="#e7e7e7"/><stop offset="0.7500" stop-color="#e4e4e4"/><stop offset="0.8125" stop-color="#e0e0e0"/><stop offset="0.8750" stop-color="#dbdbdb"/><stop offset="0.9375" stop-color="#d4d4d4"/><stop offset="1.0000" stop-color="#cbcbcb"/></linearGradient>
<linearGradient id="g41" x1="0" x2="1" y1="0" y2="0"><stop offset="0.0000" stop-color="#cecece"/><stop offset="0.0625" stop-color="#d5d5d5"/><stop offset="0.1250" stop-color="#dadada"/><stop offset="0.1875" stop-color="#dfdfdf"/><stop offset="0.2500" stop-color="#e3e3e3"/><stop offset="0.3125" stop-color="#e6e6e6"/><stop offset="0.3750" stop-color="#e8e8e8"/><stop offset="0.4375" stop-color="#e9e9e9"/><stop offset="0.5000" stop-color="#e9e9e9"/><stop offset="0.5625" stop-color="#e9e9e9"/><stop offset="0.6250" stop-color="#e8e8e8"/><stop offset="0.6875" stop-color="#e7e7e7"/><stop offset="0.7500" stop-color="#e4e4e4"/><stop offset="0.8125" stop-color="#e0e0e0"/><stop offset="0.8750" stop-color="#dadada"/><stop offset="0.9375" stop-color="#d3d3d3"/><stop offset="1.0000" stop-color="#cbcbcb"/></linearGradient>
<linearGradient id="g42" x1="0" x2="1" y1="0" y2="0"><stop offset="0.0000" stop-color="#cecece"/><stop offset="0.0625" stop-color="#d4d4d4"/><stop offset="0.1250" stop-color="#dadada"/><stop offset="0.1875" stop-color="#dedede"/><stop offset="0.2500" stop-color="#e2e2e2"/><stop offset="0.3125" stop-color="#e5e5e5"/><stop offset="0.3750" stop-color="#e7e7e7"/><stop offset="0.4375" stop-color="#e8e8e8"/><stop offset="0.5000" stop-color="#e9e9e9"/><stop offset="0.5625" stop-color="#e8e8e8"/><stop offset="0.6250" stop-color="#e8e8e8"/><stop offset="0.6875" stop-color="#e6e6e6"/><stop offset="0.7500" stop-color="#e3e3e3"/><stop offset="0.8125" stop-color="#dfdfdf"/><stop offset="0.8750" stop-color="#dadada"/><stop offset="0.9375" stop-color="#d3d3d3"/><stop offset="1.0000" stop-color="#cbcbcb"/></linearGradient>
<linearGradient id="g43" x1="0" x2="1" y1="0" y2="0"><stop offset="0.0000" stop-color="#cecece"/><stop offset="0.0625" stop-color="#d4d4d4"/><stop offset="0.1250" stop-color="#d9d9d9"/><stop offset="0.1875" stop-color="#dedede"/><stop offset="0.2500" stop-color="#e2e2e2"/><stop offset="0.3125" stop-color="#e5e5e5"/><stop offset="0.3750" stop-color="#e7e7e7"/><stop offset="0.4375" stop-color="#e8e8e8"/><stop offset="0.5000" stop-color="#e8e8e8"/><stop offset="0.5625" stop-color="#e8e8e8"/><stop offset="0.6250" stop-color="#e7e7e7"/><stop offset="0.6875" stop-color="#e6e6e6"/><stop offset="0.7500" stop-color="#e3e3e3"/><stop offset="0.8125" stop-color="#dfdfdf"/><stop offset="0.8750" stop-color="#dadada"/><stop offset="0.9375" stop-color="#d3d3d3"/><stop offset="1.0000" stop-color="#cacaca"/></linearGradient>
<linearGradient id="g44" x1="0" x2="1" y1="0" y2="0"><stop offset="0.0000" stop-color="#cdcdcd"/><stop offset="0.0625" stop-color="#d4d4d4"/><stop offset="0.1250" stop-color="#d9d9d9"/><stop offset="0.1875" stop-color="#dddddd"/><stop offset="0.2500" stop-color="#e1e1e1"/><stop offset="0.3125" stop-color="#e4e4e4"/><stop offset="0.3750" stop-color="#e6e6e6"/><stop offset="0.4375" stop-color="#e7e7e7"/><stop offset="0.5000" stop-color="#e8e8e8"/><stop offset="0.5625" stop-color="#e7e7e7"/><stop offset="0.6250" stop-color="#e7e7e7"/><stop offset="0.6875" stop-color="#e5e5e5"/><stop offset="0.7500" stop-color="#e2e2e2"/><stop offset="0.8125" stop-color="#dfdfdf"/><stop offset="0.8750" stop-color="#d9d9d9"/><stop offset="0.9375" stop-color="#d3d3d3"/><stop offset="1.0000" stop-color="#cacaca"/></linearGradient>
<linearGradient id="g45" x1="0" x2="1" y1="0" y2="0"><stop offset="0.0000" stop-color="#cdcdcd"/><stop offset="0.0625" stop-color="#d3d3d3"/><stop offset="0.1250" stop-color="#d9d9d9"/><stop offset="0.1875" stop-color="#dddddd"/><stop offset="0.2500" stop-color="#e1e1e1"/><stop offset="0.3125" stop-color="#e4e4e4"/><stop offset="0.3750" stop-color="#e6e6e6"/><stop offset="0.4375" stop-color="#e7e7e7"/><stop offset="0.5000" stop-color="#e7e7e7"/><stop offset="0.5625" stop-color="#e7e7e7"/><stop offset="0.6250" stop-color="#e6e6e6"/><stop offset="0.6875" stop-color="#e5e5e5"/><stop offset="0.7500" stop-color="#e2e2e2"/><stop offset="0.8125" stop-color="#dedede"/><stop offset="0.8750" stop-color="#d9d9d9"/><stop offset="0.9375" stop-color="#d2d2d2"/><stop offset="1.0000" stop-color="#cacaca"/></linearGradient>
<linearGradient id="g46" x1="0" x2="1" y1="0" y2="0"><stop offset="0.0000" stop-color="#cdcdcd"/><stop offset="0.0625" stop-color="#d3d3d3"/><stop offset="0.1250" stop-color="#d8d8d8"/><stop offset="0.1875" stop-color="#dddddd"/><stop offset="0.2500" stop-color="#e0e0e0"/><stop offset="0.3125" stop-color="#e3e3e3"/><stop offset="0.3750" stop-color="#e5e5e5"/><stop offset="0.4375" stop-color="#e6e6e6"/><stop offset="0.5000" stop-color="#e7e7e7"/><stop offset="0.5625" stop-color="#e6e6e6"/><stop offset="0.6250" stop-color="#e6e6e6"/><stop offset="0.6875" stop-color="#e4e4e4"/><stop offset="0.7500" stop-color="#e1e1e1"/><stop offset="0.8125" stop-color="#dedede"/><stop offset="0.8750" stop-color="#d9d9d9"/><stop offset="0.9375" stop-color="#d2d2d2"/><stop offset="1.0000" stop-color="#cacaca"/></linearGradient>
<linearGradient id="g47" x1="0" x2="1" y1="0" y2="0"><stop offset="0.0000" stop-color="#cdcdcd"/><stop offset="0.0625" stop-color="#d2d2d2"/><stop offset="0.1250" stop-color="#d8d8d8"/><stop offset="0.1875" stop-color="#dcdcdc"/><stop offset="0.2500" stop-color="#e0e0e0"/><stop offset="0.3125" stop-color="#e2e2e2"/><stop offset="0.3750" stop-color="#e5e5e5"/><stop offset="0.4375" stop-color="#e6e6e6"/><stop offset="0.5000" stop-color="#e6e6e6"/><stop offset="0.5625" stop-color="#e6e6e6"/><stop offset="0.6250" stop-color="#e5e5e5"/><stop offset="0.6875" stop-color="#e4e4e4"/><stop offset="0.7500" stop-color="#e1e1e1"/><stop offset="0.8125" stop-color="#dddddd"/><stop offset="0.8750" stop-color="#d8d8d8"/><stop offset="0.9375" stop-color="#d2d2d2"/><stop offset="1.0000" stop-color="#cacaca"/></linearGradient>
<linearGradient id="g48" x1="0" x2="1" y1="0" y2="0"><stop offset="0.0000" stop-color="#cccccc"/><stop offset="0.0625" stop-color="#d2d2d2"/><stop offset="0.1250" stop-color="#d7d7d7"/><stop offset="0.1875" stop-color="#dcdcdc"/><stop offset="0.2500" stop-color="#dfdfdf"/><stop offset="0.3125" stop-color="#e2e2e2"/><stop offset="0.3750" stop-color="#e4e4e4"/><stop offset="0.4375" stop-color="#e5e5e5"/><stop offset="0.5000" stop-color="#e6e6e6"/><stop offset="0.5625" stop-color="#e5e5e5"/><stop offset="0.6250" stop-color="#e5e5e5"/><stop offset="0.6875" stop-color="#e3e3e3"/><stop offset="0.7500" stop-color="#e0e0e0"/><stop offset="0.8125" stop-color="#dddddd"/><stop offset="0.8750" stop-color="#d8d8d8"/><stop offset="0.9375" stop-color="#d1d1d1"/><stop offset="1.0000" stop-color="#c9c9c9"/></linearGradient>
<linearGradient id="g49" x1="0" x2="1" y1="0" y2="0"><stop offset="0.0000" stop-color="#cccccc"/><stop offset="0.0625" stop-color="#d2d2d2"/><stop offset="0.1250" stop-color="#d7d7d7"/><stop offset="0.1875" stop-color="#dbdbdb"/><stop offset="0.2500" stop-color="#dfdfdf"/><stop offset="0.3125" stop-color="#e1e1e1"/><stop offset="0.3750" stop-color="#e3e3e3"/><stop offset="0.4375" stop-color="#e5e5e5"/><stop offset="0.5000" stop-color="#e5e5e5"/><stop offset="0.5625" stop-color="#e5e5e5"/><stop offset="0.6250" stop-color="#e4e4e4"/><stop offset="0.6875" stop-color="#e3e3e3"/><stop offset="0.7500" stop-color="#e0e0e0"/><stop offset="0.8125" stop-color="#dcdcdc"/><stop offset="0.8750" stop-color="#d7d7d7"/><stop offset="0.9375" stop-color="#d1d1d1"/><stop offset="1.0000" stop-color="#c9c9c9"/></linearGradient>
<linearGradient id="g50" x1="0" x2="1" y1="0" y2="0"><stop offset="0.0000" stop-color="#cccccc"/><stop offset="0.0625" stop-color="#d1d1d1"/><stop offset="0.1250" stop-color="#d6d6d6"/><stop offset="0.1875" stop-color="#dbdbdb"/><stop offset="0.2500" stop-color="#dedede"/><stop offset="0.3125" stop-color="#e1e1e1"/><stop offset="0.3750" stop-color="#e3e3e3"/><stop offset="0.4375" stop-color="#e4e4e4"/><stop offset="0.5000" stop-color="#e5e5e5"/><stop offset="0.5625" stop-color="#e4e4e4"/><stop offset="0.6250" stop-color="#e4e4e4"/><stop offset="0.6875" stop-color="#e2e2e2"/><stop offset="0.7500" stop-color="#e0e0e0"/><stop offset="0.8125" stop-color="#dcdcdc"/><stop offset="0.8750" stop-color="#d7d7d7"/><stop offset="0.9375" stop-color="#d1d1d1"/><stop offset="1.0000" stop-color="#c9c9c9"/></linearGradient>
<linearGradient id="g51" x1="0" x2="1" y1="0" y2="0"><stop offset="0.0000" stop-color="#cbcbcb"/><stop offset="0.0625" stop-color="#d1d1d1"/><stop offset="0.1250" stop-color="#d6d6d6"/><stop offset="0.1875" stop-color="#dadada"/><stop offset="0.2500" stop-color="#dedede"/><stop offset="0.3125" stop-color="#e0e0e0"/><stop offset="0.3750" stop-color="#e2e2e2"/><stop offset="0.4375" stop-color="#e4e4e4"/><stop offset="0.5000" stop-color="#e4e4e4"/><stop offset="0.5625" stop-color="#e4e4e4"/><stop offset="0.6250" stop-color="#e3e3e3"/><stop offset="0.6875" stop-color="#e2e2e2"/><stop offset="0.7500" stop-color="#dfdfdf"/><stop offset="0.8125" stop-color="#dbdbdb"/><stop offset="0.8750" stop-color="#d7d7d7"/><stop offset="0.9375" stop-color="#d0d0d0"/><stop offset="1.0000" stop-color="#c9c9c9"/></linearGradient>
<linearGradient id="g52" x1="0" x2="1" y1="0" y2="0"><stop offset="0.0000" stop-color="#cbcbcb"/><stop offset="0.0625" stop-color="#d1d1d1"/><stop offset="0.1250" stop-color="#d5d5d5"/><stop offset="0.1875" stop-color="#dadada"/><stop offset="0.2500" stop-color="#dddddd"/><stop offset="0.3125" stop-color="#e0e0e0"/><stop offset="0.3750" stop-color="#e2e2e2"/><stop offset="0.4375" stop-color="#e3e3e3"/><stop offset="0.5000" stop-color="#e4e4e4"/><stop offset="0.5625" stop-color="#e3e3e3"/><stop offset="0.6250" stop-color="#e3e3e3"/><stop offset="0.6875" stop-color="#e1e1e1"/><stop offset="0.7500" stop-color="#dfdfdf"/><stop offset="0.8125" stop-color="#dbdbdb"/><stop offset="0.8750" stop-color="#d6d6d6"/><stop offset="0.9375" stop-color="#d0d0d0"/><stop offset="1.0000" stop-color="#c9c9c9"/></linearGradient>
<linearGradient id="g53" x1="0" x2="1" y1="0" y2="0"><stop offset="0.0000" stop-color="#cbcbcb"/><stop offset="0.0625" stop-color="#d0d0d0"/><stop offset="0.1250" stop-color="#d5d5d5"/><stop offset="0.1875" stop-color="#d9d9d9"/><stop offset="0.2500" stop-color="#dddddd"/><stop offset="0.3125" stop-color="#dfdfdf"/><stop offset="0.3750" stop-color="#e1e1e1"/><stop offset="0.4375" stop-color="#e3e3e3"/><stop offset="0.5000" stop-color="#e3e3e3"/><stop offset="0.5625" stop-color="#e3e3e3"/><stop offset="0.6250" stop-color="#e2e2e2"/><stop offset="0.6875" stop-color="#e1e1e1"/><stop offset="0.7500" stop-color="#dedede"/><stop offset="0.8125" stop-color="#dbdbdb"/><stop offset="0.8750" stop-color="#d6d6d6"/><stop offset="0.9375" stop-color="#d0d0d0"/><stop offset="1.0000" stop-color="#c8c8c8"/></linearGradient>
<linearGradient id="g54" x1="0" x2="1" y1="0" y2="0"><stop offset="0.0000" stop-color="#cbcbcb"/><stop offset="0.0625" stop-color="#d0d0d0"/><stop offset="0.1250" stop-color="#d5d5d5"/><stop offset="0.1875" stop-color="#d9d9d9"/><stop offset="0.2500" stop-color="#dcdcdc"/><stop offset="0.3125" stop-color="#dfdfdf"/><stop offset="0.3750" stop-color="#e1e1e1"/><stop offset="0.4375" stop-color="#e2e2e2"/><stop offset="0.5000" stop-color="#e3e3e3"/><stop offset="0.5625" stop-color="#e2e2e2"/><stop offset="0.6250" stop-color="#e2e2e2"/><stop offset="0.6875" stop-color="#e0e0e0"/><stop offset="0.7500" stop-color="#dedede"/><stop offset="0.8125" stop-color="#dadada"/><stop offset="0.8750" stop-color="#d5d5d5"/><stop offset="0.9375" stop-color="#cfcfcf"/><stop offset="1.0000" stop-color="#c8c8c8"/></linearGradient>
<linearGradient id="g55" x1="0" x2="1" y1="0" y2="0"><stop offset="0.0000" stop-color="#cacaca"/><stop offset="0.0625" stop-color="#cfcfcf"/><stop offset="0.1250" stop-color="#d4d4d4"/><stop offset="0.1875" stop-color="#d8d8d8"/><stop offset="0.2500" stop-color="#dcdcdc"/><stop offset="0.3125" stop-color="#dedede"/><stop offset="0.3750" stop-color="#e0e0e0"/><stop offset="0.4375" stop-color="#e2e2e2"/><stop offset="0.5000" stop-color="#e2e2e2"/><stop offset="0.5625" stop-color="#e2e2e2"/><stop offset="0.6250" stop-color="#e1e1e1"/><stop offset="0.6875" stop-color="#e0e0e0"/><stop offset="0.7500" stop-color="#dddddd"/><stop offset="0.8125" stop-color="#dadada"/><stop offset="0.8750" stop-color="#d5d5d5"/><stop offset="0.9375" stop-color="#cfcfcf"/><stop offset="1.0000" stop-color="#c8c8c8"/></linearGradient>
<linearGradient id="g56" x1="0" x2="1" y1="0" y2="0"><stop offset="0.0000" stop-color="#cacaca"/><stop offset="0.0625" stop-color="#cfcfcf"/><stop offset="0.1250" stop-color="#d4d4d4"/><stop offset="0.1875" stop-color="#d8d8d8"/><stop offset="0.2500" stop-color="#dbdbdb"/><stop offset="0.3125" stop-color="#dedede"/><stop offset="0.3750" stop-color="#e0e0e0"/><stop offset="0.4375" stop-color="#e1e1e1"/><stop offset="0.5000" stop-color="#e2e2e2"/><stop offset="0.5625" stop-color="#e1e1e1"/><stop offset="0.6250" stop-color="#e1e1e1"/><stop offset="0.6875" stop-color="#dfdfdf"/><stop offset="0.7500" stop-color="#dddddd"/><stop offset="0.8125" stop-color="#d9d9d9"/><stop offset="0.8750" stop-color="#d5d5d5"/><stop offset="0.9375" stop-color="#cfcfcf"/><stop offset="1.0000" stop-color="#c8c8c8"/></linearGradient>
<linearGradient id="g57" x1="0" x2="1" y1="0" y2="0"><stop offset="0.0000" stop-color="#cacaca"/><stop offset="0.0625" stop-color="#cfcfcf"/><stop offset="0.1250" stop-color="#d3d3d3"/><stop offset="0.1875" stop-color="#d7d7d7"/><stop offset="0.2500" stop-color="#dbdbdb"/><stop offset="0.3125" stop-color="#dddddd"/><stop offset="0.3750" stop-color="#dfdfdf"/><stop offset="0.4375" stop-color="#e1e1e1"/><stop offset="0.5000" stop-color="#e1e1e1"/><stop offset="0.5625" stop-color="#e1e1e1"/><stop offset="0.6250" stop-color="#e0e0e0"/><stop offset="0.6875" stop-color="#dfdfdf"/><stop offset="0.7500" stop-color="#dcdcdc"/><stop offset="0.8125" stop-color="#d9d9d9"/><stop offset="0.8750" stop-color="#d4d4d4"/><stop offset="0.9375" stop-color="#cecece"/><stop offset="1.0000" stop-color="#c7c7c7"/></linearGradient>
<linearGradient id="g58" x1="0" x2="1" y1="0" y2="0"><stop offset="0.0000" stop-color="#c9c9c9"/><stop offset="0.0625" stop-color="#cecece"/><stop offset="0.1250" stop-color="#d3d3d3"/><stop offset="0.1875" stop-color="#d7d7d7"/><stop offset="0.2500" stop-color="#dadada"/><stop offset="0.3125" stop-color="#dddddd"/><stop offset="0.3750" stop-color="#dfdfdf"/><stop offset="0.4375" stop-color="#e0e0e0"/><stop offset="0.5000" stop-color="#e1e1e1"/><stop offset="0.5625" stop-color="#e0e0e0"/><stop offset="0.6250" stop-color="#e0e0e0"/><stop offset="0.6875" stop-color="#dedede"/><stop offset="0.7500" stop-color="#dcdcdc"/><stop offset="0.8125" stop-color="#d8d8d8"/><stop offset="0.8750" stop-color="#d4d4d4"/><stop offset="0.9375" stop-color="#cecece"/><stop offset="1.0000" stop-color="#c7c7c7"/></linearGradient>
<linearGradient id="g59" x1="0" x2="1" y1="0" y2="0"><stop offset="0.0000" stop-color="#c9c9c9"/><stop offset="0.0625" stop-color="#cecece"/><stop offset="0.1250" stop-color="#d2d2d2"/><stop offset="0.1875" stop-color="#d6d6d6"/><stop offset="0.2500" stop-color="#dadada"/><stop offset="0.3125" stop-color="#dcdcdc"/><stop offset="0.3750" stop-color="#dedede"/><stop offset="0.4375" stop-color="#e0e0e0"/><stop offset="0.5000" stop-color="#e0e0e0"/><stop offset="0.5625" stop-color="#e0e0e0"/><stop offset="0.6250" stop-color="#dfdfdf"/><stop offset="0.6875" stop-color="#dedede"/><stop offset="0.7500" stop-color="#dbdbdb"/><stop offset="0.8125" stop-color="#d8d8d8"/><stop offset="0.8750" stop-color="#d3d3d3"/><stop offset="0.9375" stop-color="#cecece"/><stop offset="1.0000" stop-color="#c7c7c7"/></linearGradient>
<linearGradient id="g60" x1="0" x2="1" y1="0" y2="0"><stop offset="0.0000" stop-color="#c9c9c9"/><stop offset="0.0625" stop-color="#cecece"/><stop offset="0.1250" stop-color="#d2d2d2"/><stop offset="0.1875" stop-color="#d6d6d6"/><stop offset="0.2500" stop-color="#d9d9d9"/><stop offset="0.3125" stop-color="#dcdcdc"/><stop offset="0.3750" stop-color="#dedede"/><stop offset="0.4375" stop-color="#dfdfdf"/><stop offset="0.5000" stop-color="#e0e0e0"/><stop offset="0.5625" stop-color="#dfdfdf"/><stop offset="0.6250" stop-color="#dfdfdf"/><stop offset="0.6875" stop-color="#dddddd"/><stop offset="0.7500" stop-color="#dbdbdb"/><stop offset="0.8125" stop-color="#d7d7d7"/><stop offset="0.8750" stop-color="#d3d3d3"/><stop offset="0.9375" stop-color="#cecece"/><stop offset="1.0000" stop-color="#c7c7c7"/></linearGradient>
<linearGradient id="g61" x1="0" x2="1" y1="0" y2="0"><stop offset="0.0000" stop-color="#c8c8c8"/><stop offset="0.0625" stop-color="#cdcdcd"/><stop offset="0.1250" stop-color="#d2d2d2"/><stop offset="0.1875" stop-color="#d5d5d5"/><stop offset="0.2500" stop-color="#d9d9d9"/><stop offset="0.3125" stop-color="#dbdbdb"/><stop offset="0.3750" stop-color="#dddddd"/><stop offset="0.4375" stop-color="#dfdfdf"/><stop offset="0.5000" stop-color="#dfdfdf"/><stop offset="0.5625" stop-color="#dfdfdf"/><stop offset="0.6250" stop-color="#dedede"/><stop offset="0.6875" stop-color="#dddddd"/><stop offset="0.7500" stop-color="#dadada"/><stop offset="0.8125" stop-color="#d7d7d7"/><stop offset="0.8750" stop-color="#d3d3d3"/><stop offset="0.9375" stop-color="#cdcdcd"/><stop offset="1.0000" stop-color="#c7c7c7"/></linearGradient>
<linearGradient id="g62" x1="0" x2="1" y1="0" y2="0"><stop offset="0.0000" stop-color="#c8c8c8"/><stop offset="0.0625" stop-color="#cdcdcd"/><stop offset="0.1250" stop-color="#d1d1d1"/><stop offset="0.1875" stop-color="#d5d5d5"/><stop offset="0.2500" stop-color="#d8d8d8"/><stop offset="0.3125" stop-color="#dbdbdb"/><stop offset="0.3750" stop-color="#dddddd"/><stop offset="0.4375" stop-color="#dedede"/><stop offset="0.5000" stop-color="#dfdfdf"/><stop offset="0.5625" stop-color="#dfdfdf"/><stop offset="0.6250" stop-color="#dedede"/><stop offset="0.6875" stop-color="#dcdcdc"/><stop offset="0.7500" stop-color="#dadada"/><stop offset="0.8125" stop-color="#d7d7d7"/><stop offset="0.8750" stop-color="#d2d2d2"/><stop offset="0.9375" stop-color="#cdcdcd"/><stop offset="1.0000" stop-color="#c6c6c6"/></linearGradient>
<linearGradient id="g63" x1="0" x2="1" y1="0" y2="0"><stop offset="0.0000" stop-color="#c8c8c8"/><stop offset="0.0625" stop-color="#cdcdcd"/><stop offset="0.1250" stop-color="#d1d1d1"/><stop offset="0.1875" stop-color="#d5d5d5"/><stop offset="0.2500" stop-color="#d8d8d8"/><stop offset="0.3125" stop-color="#dadada"/><stop offset="0.3750" stop-color="#dcdcdc"/><stop offset="0.4375" stop-color="#dedede"/><stop offset="0.5000" stop-color="#dedede"/><stop offset="0.5625" stop-color="#dedede"/><stop offset="0.6250" stop-color="#dddddd"/><stop offset="0.6875" stop-color="#dcdcdc"/><stop offset="0.7500" stop-color="#d9d9d9"/><stop offset="0.8125" stop-color="#d6d6d6"/><stop offset="0.8750" stop-color="#d2d2d2"/><stop offset="0.9375" stop-color="#cccccc"/><stop offset="1.0000" stop-color="#c6c6c6"/></linearGradient>
<linearGradient id="g64" x1="0" x2="1" y1="0" y2="0"><stop offset="0.0000" stop-color="#c7c7c7"/><stop offset="0.0625" stop-color="#cccccc"/><stop offset="0.1250" stop-color="#d0d0d0"/><stop offset="0.1875" stop-color="#d4d4d4"/><stop offset="0.2500" stop-color="#d7d7d7"/><stop offset="0.3125" stop-color="#dadada"/><stop offset="0.3750" stop-color="#dcdcdc"/><stop offset="0.4375" stop-color="#dddddd"/><stop offset="0.5000" stop-color="#dedede"/><stop offset="0.5625" stop-color="#dedede"/><stop offset="0.6250" stop-color="#dddddd"/><stop offset="0.6875" stop-color="#dbdbdb"/><stop offset="0.7500" stop-color="#d9d9d9"/><stop offset="0.8125" stop-color="#d6d6d6"/><stop offset="0.8750" stop-color="#d1d1d1"/><stop offset="0.9375" stop-color="#cccccc"/><stop offset="1.0000" stop-color="#c6c6c6"/></linearGradient>
<linearGradient id="g65" x1="0" x2="1" y1="0" y2="0"><stop offset="0.0000" stop-color="#c7c7c7"/><stop offset="0.0625" stop-color="#cccccc"/><stop offset="0.1250" stop-color="#d0d0d0"/><stop offset="0.1875" stop-color="#d4d4d4"/><stop offset="0.2500" stop-color="#d7d7d7"/><stop offset="0.3125" stop-color="#dadada"/><stop offset="0.3750" stop-color="#dcdcdc"/><stop offset="0.4375" stop-color="#dddddd"/><stop offset="0.5000" stop-color="#dedede"/><stop offset="0.5625" stop-color="#dddddd"/><stop offset="0.6250" stop-color="#dddddd"/><stop offset="0.6875" stop-color="#dbdbdb"/><stop offset="0.7500" stop-color="#d8d8d8"/><stop offset="0.8125" stop-color="#d5d5d5"/><stop offset="0.8750" stop-color="#d1d1d1"/><stop offset="0.9375" stop-color="#cccccc"/><stop offset="1.0000" stop-color="#c6c6c6"/></linearGradient>
<linearGradient id="g66" x1="0" x2="1" y1="0" y2="0"><stop offset="0.0000" stop-color="#c7c7c7"/><stop offset="0.0625" stop-color="#cbcbcb"/><stop offset="0.1250" stop-color="#d0d0d0"/><stop offset="0.1875" stop-color="#d3d3d3"/><stop offset="0.2500" stop-color="#d7d7d7"/><stop offset="0.3125" stop-color="#d9d9d9"/><stop offset="0.3750" stop-color="#dbdbdb"/><stop offset="0.4375" stop-color="#dddddd"/><stop offset="0.5000" stop-color="#dddddd"/><stop offset="0.5625" stop-color="#dddddd"/><stop offset="0.6250" stop-color="#dcdcdc"/><stop offset="0.6875" stop-color="#dadada"/><stop offset="0.7500" stop-color="#d8d8d8"/><stop offset="0.8125" stop-color="#d5d5d5"/><stop offset="0.8750" stop-color="#d0d0d0"/><stop offset="0.9375" stop-color="#cbcbcb"/><stop offset="1.0000" stop-color="#c5c5c5"/></linearGradient>
<linearGradient id="g67" x1="0" x2="1" y1="0" y2="0"><stop offset="0.0000" stop-color="#c6c6c6"/><stop offset="0.0625" stop-color="#cbcbcb"/><stop offset="0.1250" stop-color="#cfcfcf"/><stop offset="0.1875" stop-color="#d3d3d3"/><stop offset="0.2500" stop-color="#d6d6d6"/><stop offset="0.3125" stop-color="#d9d9d9"/><stop offset="0.3750" stop-color="#dbdbdb"/><stop offset="0.4375" stop-color="#dcdcdc"/><stop offset="0.5000" stop-color="#dddddd"/><stop offset="0.5625" stop-color="#dddddd"/><stop offset="0.6250" stop-color="#dcdcdc"/><stop offset="0.6875" stop-color="#dadada"/><stop offset="0.7500" stop-color="#d8d8d8"/><stop offset="0.8125" stop-color="#d4d4d4"/><stop offset="0.8750" stop-color="#d0d0d0"/><stop offset="0.9375" stop-color="#cbcbcb"/><stop offset="1.0000" stop-color="#c5c5c5"/></linearGradient>
<linearGradient id="g68" x1="0" x2="1" y1="0" y2="0"><stop offset="0.0000" stop-color="#c6c6c6"/><stop offset="0.0625" stop-color="#cbcbcb"/><stop offset="0.1250" stop-color="#cfcfcf"/><stop offset="0.1875" stop-color="#d3d3d3"/><stop offset="0.2500" stop-color="#d6d6d6"/><stop offset="0.3125" stop-color="#d8d8d8"/><stop offset="0.3750" stop-color="#dadada"/><stop offset="0.4375" stop-color="#dcdcdc"/><stop offset="0.5000" stop-color="#dcdcdc"/><stop offset="0.5625" stop-color="#dcdcdc"/><stop offset="0.6250" stop-color="#dbdbdb"/><stop offset="0.6875" stop-color="#d9d9d9"/><stop offset="0.7500" stop-color="#d7d7d7"/><stop offset="0.8125" stop-color="#d4d4d4"/><stop offset="0.8750" stop-color="#d0d0d0"/><stop offset="0.9375" stop-color="#cbcbcb"/><stop offset="1.0000" stop-color="#c5c5c5"/></linearGradient>
<linearGradient id="g69" x1="0" x2="1" y1="0" y2="0"><stop offset="0.0000" stop-color="#c6c6c6"/><stop offset="0.0625" stop-color="#cacaca"/><stop offset="0.1250" stop-color="#cfcfcf"/><stop offset="0.1875" stop-color="#d2d2d2"/><stop offset="0.2500" stop-color="#d5d5d5"/><stop offset="0.3125" stop-color="#d8d8d8"/><stop offset="0.3750" stop-color="#dadada"/><stop offset="0.4375" stop-color="#dbdbdb"/><stop offset="0.5000" stop-color="#dcdcdc"/><stop offset="0.5625" stop-color="#dcdcdc"/><stop offset="0.6250" stop-color="#dbdbdb"/><stop offset="0.6875" stop-color="#d9d9d9"/><stop offset="0.7500" stop-color="#d7d7d7"/><stop offset="0.8125" stop-color="#d3d3d3"/><stop offset="0.8750" stop-color="#cfcfcf"/><stop offset="0.9375" stop-color="#cacaca"/><stop offset="1.0000" stop-color="#c5c5c5"/></linearGradient>
<linearGradient id="g70" x1="0" x2="1" y1="0" y2="0"><stop offset="0.0000" stop-color="#c5c5c5"/><stop offset="0.0625" stop-color="#cacaca"/><stop offset="0.1250" stop-color="#cecece"/><stop offset="0.1875" stop-color="#d2d2d2"/><stop offset="0.2500" stop-color="#d5d5d5"/><stop offset="0.3125" stop-color="#d7d7d7"/><stop offset="0.3750" stop-color="#d9d9d9"/><stop offset="0.4375" stop-color="#dbdbdb"/><stop offset="0.5000" stop-color="#dbdbdb"/><stop offset="0.5625" stop-color="#dbdbdb"/><stop offset="0.6250" stop-color="#dadada"/><stop offset="0.6875" stop-color="#d9d9d9"/><stop offset="0.7500" stop-color="#d6d6d6"/><stop offset="0.8125" stop-color="#d3d3d3"/><stop offset="0.8750" stop-color="#cfcfcf"/><stop offset="0.9375" stop-color="#cacaca"/><stop offset="1.0000" stop-color="#c4c4c4"/></linearGradient>
<linearGradient id="g71" x1="0" x2="1" y1="0" y2="0"><stop offset="0.0000" stop-color="#c5c5c5"/><stop offset="0.0625" stop-color="#cacaca"/><stop offset="0.1250" stop-color="#cecece"/><stop offset="0.1875" stop-color="#d1d1d1"/><stop offset="0.2500" stop-color="#d5d5d5"/><stop offset="0.3125" stop-color="#d7d7d7"/><stop offset="0.3750" stop-color="#d9d9d9"/><stop offset="0.4375" stop-color="#dadada"/><stop offset="0.5000" stop-color="#dbdbdb"/><stop offset="0.5625" stop-color="#dbdbdb"/><stop offset="0.6250" stop-color="#dadada"/><stop offset="0.6875" stop-color="#d8d8d8"/><stop offset="0.7500" stop-color="#d6d6d6"/><stop offset="0.8125" stop-color="#d2d2d2"/><stop offset="0.8750" stop-color="#cecece"/><stop offset="0.9375" stop-color="#cacaca"/><stop offset="1.0000" stop-color="#c4c4c4"/></linearGradient>
<linearGradient id="g72" x1="0" x2="1" y1="0" y2="0"><stop offset="0.0000" stop-color="#c5c5c5"/><stop offset="0.0625" stop-color="#c9c9c9"/><stop offset="0.1250" stop-color="#cdcdcd"/><stop offset="0.1875" stop-color="#d1d1d1"/><stop offset="0.2500" stop-color="#d4d4d4"/><stop offset="0.3125" stop-color="#d6d6d6"/><stop offset="0.3750" stop-color="#d8d8d8"/><stop offset="0.4375" stop-color="#dadada"/><stop offset="0.5000" stop-color="#dadada"/><stop offset="0.5625" stop-color="#dadada"/><stop offset="0.6250" stop-color="#d9d9d9"/><stop offset="0.6875" stop-color="#d7d7d7"/><stop offset="0.7500" stop-color="#d5d5d5"/><stop offset="0.8125" stop-color="#d2d2d2"/><stop offset="0.8750" stop-color="#cecece"/><stop offset="0.9375" stop-color="#c9c9c9"/><stop offset="1.0000" stop-color="#c4c4c4"/></linearGradient>
<linearGradient id="g73" x1="0" x2="1" y1="0" y2="0"><stop offset="0.0000" stop-color="#c4c4c4"/><stop offset="0.0625" stop-color="#c9c9c9"/><stop offset="0.1250" stop-color="#cdcdcd"/><stop offset="0.1875" stop-color="#d0d0d0"/><stop offset="0.2500" stop-color="#d3d3d3"/><stop offset="0.3125" stop-color="#d6d6d6"/><stop offset="0.3750" stop-color="#d8d8d8"/><stop offset="0.4375" stop-color="#d9d9d9"/><stop offset="0.5000" stop-color="#dadada"/><stop offset="0.5625" stop-color="#dadada"/><stop offset="0.6250" stop-color="#d9d9d9"/><stop offset="0.6875" stop-color="#d7d7d7"/><stop offset="0.7500" stop-color="#d4d4d4"/><stop offset="0.8125" stop-color="#d1d1d1"/><stop offset="0.8750" stop-color="#cdcdcd"/><stop offset="0.9375" stop-color="#c9c9c9"/><stop offset="1.0000" stop-color="#c3c3c3"/></linearGradient>
<linearGradient id="g74" x1="0" x2="1" y1="0" y2="0"><stop offset="0.0000" stop-color="#c4c4c4"/><stop offset="0.0625" stop-color="#c8c8c8"/><stop offset="0.1250" stop-color="#cccccc"/><stop offset="0.1875" stop-color="#cfcfcf"/><stop offset="0.2500" stop-color="#d3d3d3"/><stop offset="0.3125" stop-color="#d5d5d5"/><stop offset="0.3750" stop-color="#d7d7d7"/><stop offset="0.4375" stop-color="#d9d9d9"/><stop offset="0.5000" stop-color="#d9d9d9"/><stop offset="0.5625" stop-color="#d9d9d9"/><stop offset="0.6250" stop-color="#d8d8d8"/><stop offset="0.6875" stop-color="#d6d6d6"/><stop offset="0.7500" stop-color="#d4d4d4"/><stop offset="0.8125" stop-color="#d1d1d1"/><stop offset="0.8750" stop-color="#cdcdcd"/><stop offset="0.9375" stop-color="#c8c8c8"/><stop offset="1.0000" stop-color="#c3c3c3"/></linearGradient>
<linearGradient id="g75" x1="0" x2="1" y1="0" y2="0"><stop offset="0.0000" stop-color="#c3c3c3"/><stop offset="0.0625" stop-color="#c7c7c7"/><stop offset="0.1250" stop-color="#cbcbcb"/><stop offset="0.1875" stop-color="#cfcfcf"/><stop offset="0.2500" stop-color="#d2d2d2"/><stop offset="0.3125" stop-color="#d4d4d4"/><stop offset="0.3750" stop-color="#d6d6d6"/><stop offset="0.4375" stop-color="#d8d8d8"/><stop offset="0.5000" stop-color="#d9d9d9"/><stop offset="0.5625" stop-color="#d8d8d8"/><stop offset="0.6250" stop-color="#d7d7d7"/><stop offset="0.6875" stop-color="#d6d6d6"/><stop offset="0.7500" stop-color="#d3d3d3"/><stop offset="0.8125" stop-color="#d0d0d0"/><stop offset="0.8750" stop-color="#cccccc"/><stop offset="0.9375" stop-color="#c8c8c8"/><stop offset="1.0000" stop-color="#c2c2c2"/></linearGradient>
<linearGradient id="g76" x1="0" x2="1" y1="0" y2="0"><stop offset="0.0000" stop-color="#c3c3c3"/><stop offset="0.0625" stop-color="#c7c7c7"/><stop offset="0.1250" stop-color="#cbcbcb"/><stop offset="0.1875" stop-color="#cecece"/><stop offset="0.2500" stop-color="#d1d1d1"/><stop offset="0.3125" stop-color="#d4d4d4"/><stop offset="0.3750" stop-color="#d6d6d6"/><stop offset="0.4375" stop-color="#d7d7d7"/><stop offset="0.5000" stop-color="#d8d8d8"/><stop offset="0.5625" stop-color="#d8d8d8"/><stop offset="0.6250" stop-color="#d7d7d7"/><stop offset="0.6875" stop-color="#d5d5d5"/><stop offset="0.7500" stop-color="#d3d3d3"/><stop offset="0.8125" stop-color="#cfcfcf"/><stop offset="0.8750" stop-color="#cccccc"/><stop offset="0.9375" stop-color="#c7c7c7"/><stop offset="1.0000" stop-color="#c2c2c2"/></linearGradient>
<linearGradient id="g77" x1="0" x2="1" y1="0" y2="0"><stop offset="0.0000" stop-color="#c2c2c2"/><stop offset="0.0625" stop-color="#c6c6c6"/><stop offset="0.1250" stop-color="#cacaca"/><stop offset="0.1875" stop-color="#cdcdcd"/><stop offset="0.2500" stop-color="#d0d0d0"/><stop offset="0.3125" stop-color="#d3d3d3"/><stop offset="0.3750" stop-color="#d5d5d5"/><stop offset="0.4375" stop-color="#d7d7d7"/><stop offset="0.5000" stop-color="#d7d7d7"/><stop offset="0.5625" stop-color="#d7d7d7"/><stop offset="0.6250" stop-color="#d6d6d6"/><stop offset="0.6875" stop-color="#d4d4d4"/><stop offset="0.7500" stop-color="#d2d2d2"/><stop offset="0.8125" stop-color="#cfcfcf"/><stop offset="0.8750" stop-color="#cbcbcb"/><stop offset="0.9375" stop-color="#c7c7c7"/><stop offset="1.0000" stop-color="#c2c2c2"/></linearGradient>
<linearGradient id="g78" x1="0" x2="1" y1="0" y2="0"><stop offset="0.0000" stop-color="#c2c2c2"/><stop offset="0.0625" stop-color="#c6c6c6"/><stop offset="0.1250" stop-color="#c9c9c9"/><stop offset="0.1875" stop-color="#cdcdcd"/><stop offset="0.2500" stop-color="#d0d0d0"/><stop offset="0.3125" stop-color="#d2d2d2"/><stop offset="0.3750" stop-color="#d4d4d4"/><stop offset="0.4375" stop-color="#d6d6d6"/><stop offset="0.5000" stop-color="#d7d7d7"/><stop offset="0.5625" stop-color="#d7d7d7"/><stop offset="0.6250" stop-color="#d6d6d6"/><stop offset="0.6875" stop-color="#d4d4d4"/><stop offset="0.7500" stop-color="#d1d1d1"/><stop offset="0.8125" stop-color="#cecece"/><stop offset="0.8750" stop-color="#cbcbcb"/><stop offset="0.9375" stop-color="#c6c6c6"/><stop offset="1.0000" stop-color="#c1c1c1"/></linearGradient>
<linearGradient id="g79" x1="0" x2="1" y1="0" y2="0"><stop offset="0.0000" stop-color="#c1c1c1"/><stop offset="0.0625" stop-color="#c5c5c5"/><stop offset="0.1250" stop-color="#c9c9c9"/><stop offset="0.1875" stop-color="#cccccc"/><stop offset="0.2500" stop-color="#cfcfcf"/><stop offset="0.3125" stop-color="#d2d2d2"/><stop offset="0.3750" stop-color="#d4d4d4"/><stop offset="0.4375" stop-color="#d5d5d5"/><stop offset="0.5000" stop-color="#d6d6d6"/><stop offset="0.5625" stop-color="#d6d6d6"/><stop offset="0.6250" stop-color="#d5d5d5"/><stop offset="0.6875" stop-color="#d3d3d3"/><stop offset="0.7500" stop-color="#d1d1d1"/><stop offset="0.8125" stop-color="#cecece"/><stop offset="0.8750" stop-color="#cacaca"/><stop offset="0.9375" stop-color="#c6c6c6"/><stop offset="1.0000" stop-color="#c1c1c1"/></linearGradient>
<linearGradient id="g80" x1="0" x2="1" y1="0" y2="0"><stop offset="0.0000" stop-color="#c1c1c1"/><stop offset="0.0625" stop-color="#c5c5c5"/><stop offset="0.1250" stop-color="#c8c8c8"/><stop offset="0.1875" stop-color="#cbcbcb"/><stop offset="0.2500" stop-color="#cecece"/><stop offset="0.3125" stop-color="#d1d1d1"/><stop offset="0.3750" stop-color="#d3d3d3"/><stop offset="0.4375" stop-color="#d5d5d5"/><stop offset="0.5000" stop-color="#d6d6d6"/><stop offset="0.5625" stop-color="#d5d5d5"/><stop offset="0.6250" stop-color="#d4d4d4"/><stop offset="0.6875" stop-color="#d3d3d3"/><stop offset="0.7500" stop-color="#d0d0d0"/><stop offset="0.8125" stop-color="#cdcdcd"/><stop offset="0.8750" stop-color="#c9c9c9"/><stop offset="0.9375" stop-color="#c5c5c5"/><stop offset="1.0000" stop-color="#c0c0c0"/></linearGradient>
<linearGradient id="g81" x1="0" x2="1" y1="0" y2="0"><stop offset="0.0000" stop-color="#c0c0c0"/><stop offset="0.0625" stop-color="#c4c4c4"/><stop offset="0.1250" stop-color="#c8c8c8"/><stop offset="0.1875" stop-color="#cbcbcb"/><stop offset="0.2500" stop-color="#cecece"/><stop offset="0.3125" stop-color="#d0d0d0"/><stop offset="0.3750" stop-color="#d2d2d2"/><stop offset="0.4375" stop-color="#d4d4d4"/><stop offset="0.5000" stop-color="#d5d5d5"/><stop offset="0.5625" stop-color="#d5d5d5"/><stop offset="0.6250" stop-color="#d4d4d4"/><stop offset="0.6875" stop-color="#d2d2d2"/><stop offset="0.7500" stop-color="#d0d0d0"/><stop offset="0.8125" stop-color="#cdcdcd"/><stop offset="0.8750" stop-color="#c9c9c9"/><stop offset="0.9375" stop-color="#c5c5c5"/><stop offset="1.0000" stop-color="#c0c0c0"/></linearGradient>
<linearGradient id="g82" x1="0" x2="1" y1="0" y2="0"><stop offset="0.0000" stop-color="#bfbfbf"/><stop offset="0.0625" stop-color="#c3c3c3"/><stop offset="0.1250" stop-color="#c7c7c7"/><stop offset="0.1875" stop-color="#cacaca"/><stop offset="0.2500" stop-color="#cdcdcd"/><stop offset="0.3125" stop-color="#cfcfcf"/><stop offset="0.3750" stop-color="#d2d2d2"/><stop offset="0.4375" stop-color="#d3d3d3"/><stop offset="0.5000" stop-color="#d4d4d4"/><stop offset="0.5625" stop-color="#d4d4d4"/><stop offset="0.6250" stop-color="#d3d3d3"/><stop offset="0.6875" stop-color="#d1d1d1"/><stop offset="0.7500" stop-color="#cfcfcf"/><stop offset="0.8125" stop-color="#cccccc"/><stop offset="0.8750" stop-color="#c8c8c8"/><stop offset="0.9375" stop-color="#c4c4c4"/><stop offset="1.0000" stop-color="#bfbfbf"/></linearGradient>
<filter id="sh" x="-20%" y="-20%" width="140%" height="140%"><feDropShadow dx="0.6" dy="0.6" stdDeviation="0.7" flood-color="#000" flood-opacity="0.45"/></filter>
</defs>
<rect x="0" y="0" width="803" height="6.5" fill="url(#g0)"/>
<rect x="0" y="6" width="803" height="6.5" fill="url(#g1)"/>
<rect x="0" y="12" width="803" height="6.5" fill="url(#g2)"/>
<rect x="0" y="18" width="803" height="6.5" fill="url(#g3)"/>
<rect x="0" y="24" width="803" height="6.5" fill="url(#g4)"/>
<rect x="0" y="30" width="803" height="6.5" fill="url(#g5)"/>
<rect x="0" y="36" width="803" height="6.5" fill="url(#g6)"/>
<rect x="0" y="42" width="803" height="6.5" fill="url(#g7)"/>
<rect x="0" y="48" width="803" height="6.5" fill="url(#g8)"/>
<rect x="0" y="54" width="803" height="6.5" fill="url(#g9)"/>
<rect x="0" y="60" width="803" height="6.5" fill="url(#g10)"/>
<rect x="0" y="66" width="803" height="6.5" fill="url(#g11)"/>
<rect x="0" y="72" width="803" height="6.5" fill="url(#g12)"/>
<rect x="0" y="78" width="803" height="6.5" fill="url(#g13)"/>
<rect x="0" y="84" width="803" height="6.5" fill="url(#g14)"/>
<rect x="0" y="90" width="803" height="6.5" fill="url(#g15)"/>
<rect x="0" y="96" width="803" height="6.5" fill="url(#g16)"/>
<rect x="0" y="102" width="803" height="6.5" fill="url(#g17)"/>
<rect x="0" y="108" width="803" height="6.5" fill="url(#g18)"/>
<rect x="0" y="114" width="803" height="6.5" fill="url(#g19)"/>
<rect x="0" y="120" width="803" height="6.5" fill="url(#g20)"/>
<rect x="0" y="126" width="803" height="6.5" fill="url(#g21)"/>
<rect x="0" y="132" width="803" height="6.5" fill="url(#g22)"/>
<rect x="0" y="138" width="803" height="6.5" fill="url(#g23)"/>
<rect x="0" y="144" width="803" height="6.5" fill="url(#g24)"/>
<rect x="0" y="150" width="803" height="6.5" fill="url(#g25)"/>
<rect x="0" y="156" width="803" height="6.5" fill="url(#g26)"/>
<rect x="0" y="162" width="803" height="6.5" fill="url(#g27)"/>
<rect x="0" y="168" width="803" height="6.5" fill="url(#g28)"/>
<rect x="0" y="174" width="803" height="6.5" fill="url(#g29)"/>
<rect x="0" y="180" width="803" height="6.5" fill="url(#g30)"/>
<rect x="0" y="186" width="803" height="6.5" fill="url(#g31)"/>
<rect x="0" y="192" width="803" height="6.5" fill="url(#g32)"/>
<rect x="0" y="198" width="803" height="6.5" fill="url(#g33)"/>
<rect x="0" y="204" width="803" height="6.5" fill="url(#g34)"/>
<rect x="0" y="210" width="803" height="6.5" fill="url(#g35)"/>
<rect x="0" y="216" width="803" height="6.5" fill="url(#g36)"/>
<rect x="0" y="222" width="803" height="6.5" fill="url(#g37)"/>
<rect x="0" y="228" width="803" height="6.5" fill="url(#g38)"/>
<rect x="0" y="234" width="803" height="6.5" fill="url(#g39)"/>
<rect x="0" y="240" width="803" height="6.5" fill="url(#g40)"/>
<rect x="0" y="246" width="803" height="6.5" fill="url(#g41)"/>
<rect x="0" y="252" width="803" height="6.5" fill="url(#g42)"/>
<rect x="0" y="258" width="803" height="6.5" fill="url(#g43)"/>
<rect x="0" y="264" width="803" height="6.5" fill="url(#g44)"/>
<rect x="0" y="270" width="803" height="6.5" fill="url(#g45)"/>
<rect x="0" y="276" width="803" height="6.5" fill="url(#g46)"/>
<rect x="0" y="282" width="803" height="6.5" fill="url(#g47)"/>
<rect x="0" y="288" width="803" height="6.5" fill="url(#g48)"/>
<rect x="0" y="294" width="803" height="6.5" fill="url(#g49)"/>
<rect x="0" y="300" width="803" height="6.5" fill="url(#g50)"/>
<rect x="0" y="306" width="803" height="6.5" fill="url(#g51)"/>
<rect x="0" y="312" width="803" height="6.5" fill="url(#g52)"/>
<rect x="0" y="318" width="803" height="6.5" fill="url(#g53)"/>
<rect x="0" y="324" width="803" height="6.5" fill="url(#g54)"/>
<rect x="0" y="330" width="803" height="6.5" fill="url(#g55)"/>
<rect x="0" y="336" width="803" height="6.5" fill="url(#g56)"/>
<rect x="0" y="342" width="803" height="6.5" fill="url(#g57)"/>
<rect x="0" y="348" width="803" height="6.5" fill="url(#g58)"/>
<rect x="0" y="354" width="803" height="6.5" fill="url(#g59)"/>
<rect x="0" y="360" width="803" height="6.5" fill="url(#g60)"/>
<rect x="0" y="366" width="803" height="6.5" fill="url(#g61)"/>
<rect x="0" y="372" width="803" height="6.5" fill="url(#g62)"/>
<rect x="0" y="378" width="803" height="6.5" fill="url(#g63)"/>
<rect x="0" y="384" width="803" height="6.5" fill="url(#g64)"/>
<rect x="0" y="390" width="803" height="6.5" fill="url(#g65)"/>
<rect x="0" y="396" width="803" height="6.5" fill="url(#g66)"/>
<rect x="0" y="402" width="803" height="6.5" fill="url(#g67)"/>
<rect x="0" y="408" width="803" height="6.5" fill="url(#g68)"/>
<rect x="0" y="414" width="803" height="6.5" fill="url(#g69)"/>
<rect x="0" y="420" width="803" height="6.5" fill="url(#g70)"/>
<rect x="0" y="426" width="803" height="6.5" fill="url(#g71)"/>
<rect x="0" y="432" width="803" height="6.5" fill="url(#g72)"/>
<rect x="0" y="438" width="803" height="6.5" fill="url(#g73)"/>
<rect x="0" y="444" width="803" height="6.5" fill="url(#g74)"/>
<rect x="0" y="450" width="803" height="6.5" fill="url(#g75)"/>
<rect x="0" y="456" width="803" height="6.5" fill="url(#g76)"/>
<rect x="0" y="462" width="803" height="6.5" fill="url(#g77)"/>
<rect x="0" y="468" width="803" height="6.5" fill="url(#g78)"/>
<rect x="0" y="474" width="803" height="6.5" fill="url(#g79)"/>
<rect x="0" y="480" width="803" height="6.5" fill="url(#g80)"/>
<rect x="0" y="486" width="803" height="6.5" fill="url(#g81)"/>
<rect x="0" y="492" width="803" height="6.5" fill="url(#g82)"/>
<rect x="0" y="0" width="803" height="1.5" fill="#c0c0c0"/>
<rect x="0" y="496.5" width="803" height="1.5" fill="#c0c0c0"/>
<rect x="0" y="0" width="2" height="498" fill="#bfbfbf"/>
<rect x="801.5" y="0" width="1.5" height="498" fill="#c0c0c0"/>
<rect x="0" y="0" width="1" height="1" fill="#fff"/>

<line x1="24" x2="779.6" y1="90.80" y2="90.80" stroke="#d6d6d6" stroke-width="2"/>
<line x1="24" x2="779.6" y1="126.47" y2="126.47" stroke="#d1d1d1" stroke-width="2"/>
<line x1="24" x2="779.6" y1="162.14" y2="162.14" stroke="#cccccc" stroke-width="2"/>
<line x1="24" x2="779.6" y1="197.81" y2="197.81" stroke="#c5c5c5" stroke-width="2"/>
<line x1="24" x2="779.6" y1="233.48" y2="233.48" stroke="#bcbcbc" stroke-width="2"/>
<line x1="24" x2="779.6" y1="269.15" y2="269.15" stroke="#b0b0b0" stroke-width="2"/>
<line x1="24" x2="779.6" y1="304.82" y2="304.82" stroke="#a6a6a6" stroke-width="2"/>
<line x1="24" x2="779.6" y1="340.49" y2="340.49" stroke="#989898" stroke-width="2"/>
<line x1="24" x2="779.6" y1="376.16" y2="376.16" stroke="#8c8c8c" stroke-width="2"/>
<line x1="24" x2="779.6" y1="411.83" y2="411.83" stroke="#7e7e7e" stroke-width="2"/>
<line x1="24" x2="779.6" y1="447.5" y2="447.5" stroke="#404040" stroke-width="3.2"/>
<polyline points="86.7,321.8 212.6,304.0 338.5,286.2 464.5,268.5 590.4,250.7 716.3,232.9" fill="none" stroke="#4f81bd" stroke-width="5.5" stroke-linejoin="round" stroke-linecap="round"/>
<circle cx="86.7" cy="321.8" r="17.6" fill="#4f81bd"/>
<circle cx="212.6" cy="304.0" r="17.6" fill="#4f81bd"/>
<circle cx="338.5" cy="286.2" r="17.6" fill="#4f81bd"/>
<circle cx="464.5" cy="268.5" r="17.6" fill="#4f81bd"/>
<circle cx="590.4" cy="250.7" r="17.6" fill="#4f81bd"/>
<circle cx="716.3" cy="232.9" r="17.6" fill="#4f81bd"/>
<polyline points="86.7,286.3 212.6,108.2 338.5,179.8 464.5,108.2 590.4,108.2 716.3,108.2" fill="none" stroke="#c0504d" stroke-width="5.5" stroke-linejoin="round" stroke-linecap="round"/>
<circle cx="86.7" cy="286.3" r="17.6" fill="#c0504d"/>
<circle cx="212.6" cy="108.2" r="17.6" fill="#c0504d"/>
<circle cx="338.5" cy="179.8" r="17.6" fill="#c0504d"/>
<circle cx="464.5" cy="108.2" r="17.6" fill="#c0504d"/>
<circle cx="590.4" cy="108.2" r="17.6" fill="#c0504d"/>
<circle cx="716.3" cy="108.2" r="17.6" fill="#c0504d"/>
<text class="dl" filter="url(#sh)" x="86.7" y="327.9">2019</text>
<text class="dl" filter="url(#sh)" x="212.6" y="310.1">2020</text>
<text class="dl" filter="url(#sh)" x="338.5" y="292.3">2021</text>
<text class="dl" filter="url(#sh)" x="464.5" y="274.6">2022</text>
<text class="dl" filter="url(#sh)" x="590.4" y="256.8">2023</text>
<text class="dl" filter="url(#sh)" x="716.3" y="239.0">2024</text>
<text class="dl" filter="url(#sh)" x="86.5" y="293.5">2</text>
<text class="dl" filter="url(#sh)" x="212.4" y="115.4">11</text>
<text class="dl" filter="url(#sh)" x="338.3" y="187.0">6</text>
<text class="dl" filter="url(#sh)" x="464.3" y="115.4">9</text>
<text class="dl" filter="url(#sh)" x="590.2" y="115.4">8</text>
<text class="dl" filter="url(#sh)" x="716.1" y="115.4">7</text>
<text class="ax" x="86.7" y="476">1</text>
<text class="ax" x="212.6" y="476">2</text>
<text class="ax" x="338.5" y="476">3</text>
<text class="ax" x="464.5" y="476">4</text>
<text class="ax" x="590.4" y="476">5</text>
<text class="ax" x="716.3" y="476">6</text>
<text class="t" x="166" y="51.7" textLength="38.8" lengthAdjust="spacingAndGlyphs">近</text>
<text class="tb" x="203.8" y="51">6</text>
<text class="t" x="223" y="51.7" textLength="414.6" lengthAdjust="spacingAndGlyphs">年来依申请公开办理数量</text>
</svg></body></html>
